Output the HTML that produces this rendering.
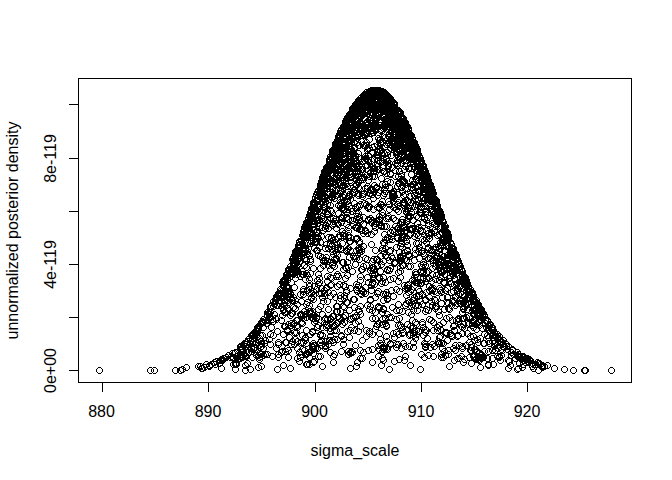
<!DOCTYPE html>
<html><head><meta charset="utf-8"><title>plot</title>
<style>
html,body{margin:0;padding:0;background:#fff;}
body{width:672px;height:480px;overflow:hidden;}
svg{display:block;}
.ln{stroke:#000;stroke-width:1px;fill:none;}
text{font-family:"Liberation Sans",Arial,sans-serif;font-size:16px;fill:#000;}
</style></head><body>
<svg width="672" height="480" viewBox="0 0 672 480">
<rect x="0" y="0" width="672" height="480" fill="#fff"/>
<g shape-rendering="crispEdges">
<defs><path id="c" d="M2 0h3v1h-3zM1 1h1v1h-1zM5 1h1v1h-1zM0 2h1v3h-1zM6 2h1v3h-1zM1 5h1v1h-1zM5 5h1v1h-1zM2 6h3v1h-3z"/></defs>
<g id="pts" fill="#000"><use href="#c" x="337" y="132"/><use href="#c" x="379" y="348"/><use href="#c" x="368" y="164"/><use href="#c" x="376" y="88"/><use href="#c" x="396" y="249"/><use href="#c" x="335" y="157"/><use href="#c" x="382" y="236"/><use href="#c" x="213" y="358"/><use href="#c" x="287" y="365"/><use href="#c" x="439" y="269"/><use href="#c" x="309" y="205"/><use href="#c" x="438" y="300"/><use href="#c" x="404" y="247"/><use href="#c" x="385" y="98"/><use href="#c" x="395" y="191"/><use href="#c" x="489" y="338"/><use href="#c" x="484" y="317"/><use href="#c" x="372" y="220"/><use href="#c" x="309" y="232"/><use href="#c" x="424" y="184"/><use href="#c" x="341" y="206"/><use href="#c" x="336" y="298"/><use href="#c" x="445" y="234"/><use href="#c" x="443" y="232"/><use href="#c" x="363" y="89"/><use href="#c" x="330" y="150"/><use href="#c" x="375" y="189"/><use href="#c" x="381" y="240"/><use href="#c" x="340" y="123"/><use href="#c" x="523" y="355"/><use href="#c" x="294" y="317"/><use href="#c" x="307" y="270"/><use href="#c" x="398" y="114"/><use href="#c" x="387" y="118"/><use href="#c" x="526" y="357"/><use href="#c" x="405" y="165"/><use href="#c" x="330" y="215"/><use href="#c" x="344" y="198"/><use href="#c" x="404" y="135"/><use href="#c" x="342" y="283"/><use href="#c" x="371" y="173"/><use href="#c" x="401" y="221"/><use href="#c" x="399" y="216"/><use href="#c" x="403" y="227"/><use href="#c" x="401" y="221"/><use href="#c" x="400" y="222"/><use href="#c" x="402" y="227"/><use href="#c" x="398" y="219"/><use href="#c" x="406" y="226"/><use href="#c" x="401" y="223"/><use href="#c" x="376" y="119"/><use href="#c" x="436" y="277"/><use href="#c" x="374" y="91"/><use href="#c" x="319" y="192"/><use href="#c" x="258" y="319"/><use href="#c" x="416" y="172"/><use href="#c" x="401" y="129"/><use href="#c" x="360" y="243"/><use href="#c" x="418" y="169"/><use href="#c" x="488" y="324"/><use href="#c" x="360" y="100"/><use href="#c" x="390" y="138"/><use href="#c" x="391" y="137"/><use href="#c" x="430" y="208"/><use href="#c" x="398" y="114"/><use href="#c" x="270" y="303"/><use href="#c" x="395" y="269"/><use href="#c" x="219" y="357"/><use href="#c" x="389" y="105"/><use href="#c" x="384" y="295"/><use href="#c" x="419" y="248"/><use href="#c" x="355" y="184"/><use href="#c" x="351" y="112"/><use href="#c" x="387" y="247"/><use href="#c" x="423" y="227"/><use href="#c" x="351" y="109"/><use href="#c" x="518" y="356"/><use href="#c" x="485" y="348"/><use href="#c" x="410" y="181"/><use href="#c" x="365" y="203"/><use href="#c" x="340" y="149"/><use href="#c" x="334" y="151"/><use href="#c" x="539" y="363"/><use href="#c" x="323" y="169"/><use href="#c" x="278" y="287"/><use href="#c" x="448" y="244"/><use href="#c" x="382" y="92"/><use href="#c" x="252" y="331"/><use href="#c" x="319" y="198"/><use href="#c" x="373" y="256"/><use href="#c" x="470" y="295"/><use href="#c" x="351" y="304"/><use href="#c" x="448" y="247"/><use href="#c" x="406" y="150"/><use href="#c" x="371" y="104"/><use href="#c" x="354" y="131"/><use href="#c" x="284" y="297"/><use href="#c" x="403" y="126"/><use href="#c" x="341" y="295"/><use href="#c" x="375" y="152"/><use href="#c" x="515" y="365"/><use href="#c" x="286" y="270"/><use href="#c" x="377" y="136"/><use href="#c" x="431" y="204"/><use href="#c" x="330" y="251"/><use href="#c" x="349" y="189"/><use href="#c" x="339" y="240"/><use href="#c" x="336" y="315"/><use href="#c" x="446" y="363"/><use href="#c" x="422" y="326"/><use href="#c" x="284" y="345"/><use href="#c" x="420" y="171"/><use href="#c" x="331" y="165"/><use href="#c" x="489" y="325"/><use href="#c" x="370" y="124"/><use href="#c" x="354" y="225"/><use href="#c" x="327" y="349"/><use href="#c" x="378" y="261"/><use href="#c" x="357" y="201"/><use href="#c" x="395" y="301"/><use href="#c" x="355" y="142"/><use href="#c" x="364" y="302"/><use href="#c" x="347" y="316"/><use href="#c" x="420" y="189"/><use href="#c" x="377" y="201"/><use href="#c" x="374" y="152"/><use href="#c" x="410" y="146"/><use href="#c" x="410" y="339"/><use href="#c" x="470" y="298"/><use href="#c" x="363" y="172"/><use href="#c" x="333" y="327"/><use href="#c" x="369" y="346"/><use href="#c" x="459" y="309"/><use href="#c" x="354" y="104"/><use href="#c" x="427" y="182"/><use href="#c" x="329" y="156"/><use href="#c" x="367" y="186"/><use href="#c" x="258" y="338"/><use href="#c" x="290" y="294"/><use href="#c" x="430" y="211"/><use href="#c" x="445" y="232"/><use href="#c" x="316" y="203"/><use href="#c" x="396" y="288"/><use href="#c" x="301" y="228"/><use href="#c" x="396" y="227"/><use href="#c" x="414" y="192"/><use href="#c" x="306" y="213"/><use href="#c" x="411" y="203"/><use href="#c" x="278" y="290"/><use href="#c" x="461" y="278"/><use href="#c" x="350" y="122"/><use href="#c" x="330" y="179"/><use href="#c" x="329" y="183"/><use href="#c" x="335" y="166"/><use href="#c" x="331" y="176"/><use href="#c" x="332" y="175"/><use href="#c" x="333" y="169"/><use href="#c" x="327" y="183"/><use href="#c" x="333" y="173"/><use href="#c" x="339" y="204"/><use href="#c" x="451" y="268"/><use href="#c" x="362" y="94"/><use href="#c" x="436" y="264"/><use href="#c" x="437" y="268"/><use href="#c" x="433" y="258"/><use href="#c" x="436" y="264"/><use href="#c" x="438" y="269"/><use href="#c" x="346" y="124"/><use href="#c" x="377" y="336"/><use href="#c" x="285" y="288"/><use href="#c" x="349" y="109"/><use href="#c" x="246" y="335"/><use href="#c" x="325" y="262"/><use href="#c" x="334" y="172"/><use href="#c" x="449" y="253"/><use href="#c" x="240" y="342"/><use href="#c" x="313" y="314"/><use href="#c" x="326" y="178"/><use href="#c" x="341" y="127"/><use href="#c" x="444" y="257"/><use href="#c" x="441" y="247"/><use href="#c" x="444" y="258"/><use href="#c" x="444" y="258"/><use href="#c" x="445" y="255"/><use href="#c" x="445" y="260"/><use href="#c" x="446" y="262"/><use href="#c" x="403" y="209"/><use href="#c" x="342" y="156"/><use href="#c" x="321" y="172"/><use href="#c" x="418" y="262"/><use href="#c" x="395" y="322"/><use href="#c" x="450" y="345"/><use href="#c" x="334" y="283"/><use href="#c" x="345" y="224"/><use href="#c" x="321" y="170"/><use href="#c" x="394" y="142"/><use href="#c" x="381" y="94"/><use href="#c" x="338" y="131"/><use href="#c" x="394" y="109"/><use href="#c" x="385" y="115"/><use href="#c" x="310" y="315"/><use href="#c" x="403" y="157"/><use href="#c" x="340" y="341"/><use href="#c" x="264" y="317"/><use href="#c" x="464" y="300"/><use href="#c" x="339" y="139"/><use href="#c" x="474" y="310"/><use href="#c" x="320" y="178"/><use href="#c" x="333" y="139"/><use href="#c" x="473" y="326"/><use href="#c" x="411" y="192"/><use href="#c" x="515" y="353"/><use href="#c" x="239" y="346"/><use href="#c" x="420" y="275"/><use href="#c" x="331" y="351"/><use href="#c" x="319" y="294"/><use href="#c" x="364" y="118"/><use href="#c" x="280" y="307"/><use href="#c" x="313" y="286"/><use href="#c" x="343" y="247"/><use href="#c" x="319" y="224"/><use href="#c" x="328" y="160"/><use href="#c" x="347" y="122"/><use href="#c" x="470" y="298"/><use href="#c" x="339" y="215"/><use href="#c" x="306" y="252"/><use href="#c" x="449" y="246"/><use href="#c" x="387" y="170"/><use href="#c" x="415" y="151"/><use href="#c" x="310" y="204"/><use href="#c" x="349" y="268"/><use href="#c" x="436" y="262"/><use href="#c" x="441" y="271"/><use href="#c" x="436" y="261"/><use href="#c" x="317" y="303"/><use href="#c" x="382" y="134"/><use href="#c" x="317" y="339"/><use href="#c" x="311" y="221"/><use href="#c" x="395" y="278"/><use href="#c" x="256" y="356"/><use href="#c" x="299" y="268"/><use href="#c" x="354" y="139"/><use href="#c" x="467" y="286"/><use href="#c" x="472" y="307"/><use href="#c" x="372" y="116"/><use href="#c" x="425" y="181"/><use href="#c" x="328" y="163"/><use href="#c" x="203" y="361"/><use href="#c" x="384" y="93"/><use href="#c" x="453" y="254"/><use href="#c" x="401" y="122"/><use href="#c" x="409" y="225"/><use href="#c" x="450" y="272"/><use href="#c" x="415" y="232"/><use href="#c" x="320" y="257"/><use href="#c" x="344" y="195"/><use href="#c" x="447" y="274"/><use href="#c" x="413" y="146"/><use href="#c" x="345" y="216"/><use href="#c" x="406" y="139"/><use href="#c" x="324" y="278"/><use href="#c" x="344" y="299"/><use href="#c" x="388" y="109"/><use href="#c" x="364" y="97"/><use href="#c" x="324" y="316"/><use href="#c" x="403" y="134"/><use href="#c" x="345" y="131"/><use href="#c" x="390" y="125"/><use href="#c" x="482" y="317"/><use href="#c" x="326" y="159"/><use href="#c" x="313" y="197"/><use href="#c" x="519" y="354"/><use href="#c" x="293" y="252"/><use href="#c" x="391" y="130"/><use href="#c" x="316" y="290"/><use href="#c" x="347" y="122"/><use href="#c" x="443" y="243"/><use href="#c" x="415" y="280"/><use href="#c" x="325" y="211"/><use href="#c" x="457" y="290"/><use href="#c" x="304" y="248"/><use href="#c" x="355" y="328"/><use href="#c" x="461" y="293"/><use href="#c" x="478" y="306"/><use href="#c" x="383" y="106"/><use href="#c" x="388" y="108"/><use href="#c" x="496" y="354"/><use href="#c" x="336" y="232"/><use href="#c" x="349" y="136"/><use href="#c" x="391" y="101"/><use href="#c" x="344" y="116"/><use href="#c" x="352" y="314"/><use href="#c" x="423" y="183"/><use href="#c" x="359" y="98"/><use href="#c" x="388" y="108"/><use href="#c" x="306" y="276"/><use href="#c" x="409" y="158"/><use href="#c" x="407" y="213"/><use href="#c" x="341" y="122"/><use href="#c" x="410" y="139"/><use href="#c" x="339" y="129"/><use href="#c" x="337" y="132"/><use href="#c" x="397" y="130"/><use href="#c" x="505" y="365"/><use href="#c" x="397" y="253"/><use href="#c" x="322" y="257"/><use href="#c" x="320" y="262"/><use href="#c" x="303" y="257"/><use href="#c" x="310" y="199"/><use href="#c" x="422" y="171"/><use href="#c" x="367" y="125"/><use href="#c" x="376" y="305"/><use href="#c" x="375" y="303"/><use href="#c" x="379" y="94"/><use href="#c" x="383" y="96"/><use href="#c" x="379" y="99"/><use href="#c" x="377" y="98"/><use href="#c" x="381" y="99"/><use href="#c" x="346" y="112"/><use href="#c" x="407" y="132"/><use href="#c" x="312" y="208"/><use href="#c" x="342" y="120"/><use href="#c" x="197" y="363"/><use href="#c" x="195" y="363"/><use href="#c" x="419" y="200"/><use href="#c" x="421" y="206"/><use href="#c" x="415" y="196"/><use href="#c" x="354" y="160"/><use href="#c" x="337" y="187"/><use href="#c" x="490" y="361"/><use href="#c" x="400" y="340"/><use href="#c" x="317" y="183"/><use href="#c" x="323" y="222"/><use href="#c" x="387" y="276"/><use href="#c" x="417" y="227"/><use href="#c" x="307" y="258"/><use href="#c" x="397" y="118"/><use href="#c" x="373" y="168"/><use href="#c" x="266" y="313"/><use href="#c" x="342" y="312"/><use href="#c" x="478" y="308"/><use href="#c" x="476" y="307"/><use href="#c" x="478" y="309"/><use href="#c" x="478" y="307"/><use href="#c" x="262" y="351"/><use href="#c" x="361" y="93"/><use href="#c" x="343" y="181"/><use href="#c" x="471" y="317"/><use href="#c" x="470" y="317"/><use href="#c" x="473" y="320"/><use href="#c" x="473" y="320"/><use href="#c" x="470" y="319"/><use href="#c" x="473" y="321"/><use href="#c" x="348" y="129"/><use href="#c" x="480" y="310"/><use href="#c" x="402" y="353"/><use href="#c" x="312" y="194"/><use href="#c" x="334" y="137"/><use href="#c" x="292" y="275"/><use href="#c" x="430" y="319"/><use href="#c" x="320" y="207"/><use href="#c" x="328" y="154"/><use href="#c" x="413" y="271"/><use href="#c" x="365" y="347"/><use href="#c" x="328" y="155"/><use href="#c" x="318" y="233"/><use href="#c" x="338" y="130"/><use href="#c" x="365" y="90"/><use href="#c" x="437" y="242"/><use href="#c" x="304" y="234"/><use href="#c" x="276" y="290"/><use href="#c" x="344" y="183"/><use href="#c" x="390" y="103"/><use href="#c" x="440" y="267"/><use href="#c" x="405" y="309"/><use href="#c" x="317" y="190"/><use href="#c" x="451" y="357"/><use href="#c" x="346" y="168"/><use href="#c" x="350" y="163"/><use href="#c" x="302" y="247"/><use href="#c" x="247" y="341"/><use href="#c" x="326" y="164"/><use href="#c" x="421" y="173"/><use href="#c" x="384" y="178"/><use href="#c" x="375" y="96"/><use href="#c" x="366" y="92"/><use href="#c" x="477" y="354"/><use href="#c" x="480" y="354"/><use href="#c" x="475" y="354"/><use href="#c" x="478" y="355"/><use href="#c" x="478" y="355"/><use href="#c" x="477" y="352"/><use href="#c" x="476" y="354"/><use href="#c" x="479" y="354"/><use href="#c" x="475" y="354"/><use href="#c" x="478" y="354"/><use href="#c" x="480" y="353"/><use href="#c" x="478" y="354"/><use href="#c" x="338" y="333"/><use href="#c" x="245" y="336"/><use href="#c" x="428" y="230"/><use href="#c" x="372" y="101"/><use href="#c" x="393" y="148"/><use href="#c" x="343" y="118"/><use href="#c" x="419" y="321"/><use href="#c" x="366" y="95"/><use href="#c" x="454" y="256"/><use href="#c" x="305" y="305"/><use href="#c" x="317" y="182"/><use href="#c" x="301" y="308"/><use href="#c" x="329" y="262"/><use href="#c" x="391" y="193"/><use href="#c" x="356" y="256"/><use href="#c" x="355" y="107"/><use href="#c" x="258" y="340"/><use href="#c" x="393" y="206"/><use href="#c" x="342" y="132"/><use href="#c" x="361" y="174"/><use href="#c" x="380" y="102"/><use href="#c" x="365" y="99"/><use href="#c" x="410" y="217"/><use href="#c" x="348" y="111"/><use href="#c" x="331" y="263"/><use href="#c" x="466" y="291"/><use href="#c" x="391" y="144"/><use href="#c" x="219" y="356"/><use href="#c" x="242" y="362"/><use href="#c" x="335" y="134"/><use href="#c" x="444" y="234"/><use href="#c" x="381" y="240"/><use href="#c" x="379" y="245"/><use href="#c" x="380" y="239"/><use href="#c" x="381" y="231"/><use href="#c" x="382" y="245"/><use href="#c" x="381" y="248"/><use href="#c" x="441" y="348"/><use href="#c" x="366" y="105"/><use href="#c" x="423" y="208"/><use href="#c" x="509" y="347"/><use href="#c" x="302" y="311"/><use href="#c" x="326" y="180"/><use href="#c" x="398" y="160"/><use href="#c" x="408" y="165"/><use href="#c" x="349" y="110"/><use href="#c" x="248" y="345"/><use href="#c" x="407" y="199"/><use href="#c" x="384" y="110"/><use href="#c" x="439" y="230"/><use href="#c" x="390" y="293"/><use href="#c" x="360" y="349"/><use href="#c" x="400" y="253"/><use href="#c" x="308" y="218"/><use href="#c" x="418" y="158"/><use href="#c" x="344" y="122"/><use href="#c" x="302" y="222"/><use href="#c" x="313" y="208"/><use href="#c" x="458" y="278"/><use href="#c" x="324" y="208"/><use href="#c" x="428" y="196"/><use href="#c" x="315" y="235"/><use href="#c" x="438" y="289"/><use href="#c" x="417" y="366"/><use href="#c" x="339" y="321"/><use href="#c" x="372" y="102"/><use href="#c" x="385" y="123"/><use href="#c" x="332" y="141"/><use href="#c" x="365" y="167"/><use href="#c" x="321" y="316"/><use href="#c" x="248" y="348"/><use href="#c" x="424" y="246"/><use href="#c" x="455" y="282"/><use href="#c" x="459" y="291"/><use href="#c" x="456" y="283"/><use href="#c" x="451" y="275"/><use href="#c" x="454" y="280"/><use href="#c" x="453" y="281"/><use href="#c" x="323" y="167"/><use href="#c" x="448" y="332"/><use href="#c" x="282" y="348"/><use href="#c" x="371" y="124"/><use href="#c" x="366" y="101"/><use href="#c" x="368" y="161"/><use href="#c" x="448" y="247"/><use href="#c" x="401" y="153"/><use href="#c" x="405" y="151"/><use href="#c" x="420" y="332"/><use href="#c" x="364" y="129"/><use href="#c" x="379" y="321"/><use href="#c" x="450" y="297"/><use href="#c" x="520" y="354"/><use href="#c" x="427" y="188"/><use href="#c" x="383" y="215"/><use href="#c" x="474" y="348"/><use href="#c" x="476" y="350"/><use href="#c" x="474" y="302"/><use href="#c" x="291" y="263"/><use href="#c" x="238" y="343"/><use href="#c" x="407" y="288"/><use href="#c" x="433" y="217"/><use href="#c" x="379" y="316"/><use href="#c" x="318" y="290"/><use href="#c" x="332" y="148"/><use href="#c" x="319" y="198"/><use href="#c" x="362" y="185"/><use href="#c" x="390" y="117"/><use href="#c" x="418" y="268"/><use href="#c" x="281" y="309"/><use href="#c" x="354" y="284"/><use href="#c" x="337" y="292"/><use href="#c" x="267" y="309"/><use href="#c" x="351" y="144"/><use href="#c" x="437" y="333"/><use href="#c" x="371" y="97"/><use href="#c" x="436" y="322"/><use href="#c" x="371" y="98"/><use href="#c" x="218" y="365"/><use href="#c" x="403" y="292"/><use href="#c" x="324" y="258"/><use href="#c" x="289" y="256"/><use href="#c" x="519" y="364"/><use href="#c" x="342" y="145"/><use href="#c" x="381" y="93"/><use href="#c" x="332" y="141"/><use href="#c" x="311" y="283"/><use href="#c" x="504" y="346"/><use href="#c" x="341" y="163"/><use href="#c" x="385" y="132"/><use href="#c" x="306" y="354"/><use href="#c" x="435" y="243"/><use href="#c" x="382" y="291"/><use href="#c" x="339" y="174"/><use href="#c" x="335" y="179"/><use href="#c" x="370" y="275"/><use href="#c" x="479" y="315"/><use href="#c" x="351" y="186"/><use href="#c" x="363" y="122"/><use href="#c" x="360" y="289"/><use href="#c" x="300" y="315"/><use href="#c" x="280" y="289"/><use href="#c" x="397" y="110"/><use href="#c" x="346" y="136"/><use href="#c" x="425" y="255"/><use href="#c" x="418" y="174"/><use href="#c" x="455" y="291"/><use href="#c" x="243" y="353"/><use href="#c" x="353" y="312"/><use href="#c" x="319" y="193"/><use href="#c" x="332" y="236"/><use href="#c" x="386" y="123"/><use href="#c" x="421" y="181"/><use href="#c" x="396" y="257"/><use href="#c" x="310" y="221"/><use href="#c" x="420" y="261"/><use href="#c" x="393" y="344"/><use href="#c" x="376" y="87"/><use href="#c" x="331" y="195"/><use href="#c" x="440" y="279"/><use href="#c" x="258" y="319"/><use href="#c" x="335" y="210"/><use href="#c" x="379" y="89"/><use href="#c" x="423" y="306"/><use href="#c" x="434" y="211"/><use href="#c" x="281" y="278"/><use href="#c" x="284" y="283"/><use href="#c" x="350" y="106"/><use href="#c" x="368" y="282"/><use href="#c" x="415" y="214"/><use href="#c" x="341" y="233"/><use href="#c" x="413" y="327"/><use href="#c" x="277" y="290"/><use href="#c" x="310" y="350"/><use href="#c" x="367" y="90"/><use href="#c" x="376" y="204"/><use href="#c" x="406" y="132"/><use href="#c" x="307" y="229"/><use href="#c" x="447" y="239"/><use href="#c" x="362" y="143"/><use href="#c" x="317" y="186"/><use href="#c" x="541" y="363"/><use href="#c" x="470" y="292"/><use href="#c" x="383" y="93"/><use href="#c" x="347" y="349"/><use href="#c" x="345" y="351"/><use href="#c" x="345" y="348"/><use href="#c" x="347" y="350"/><use href="#c" x="349" y="349"/><use href="#c" x="348" y="348"/><use href="#c" x="347" y="119"/><use href="#c" x="315" y="203"/><use href="#c" x="439" y="262"/><use href="#c" x="426" y="235"/><use href="#c" x="406" y="343"/><use href="#c" x="386" y="206"/><use href="#c" x="372" y="122"/><use href="#c" x="327" y="164"/><use href="#c" x="411" y="151"/><use href="#c" x="434" y="324"/><use href="#c" x="415" y="164"/><use href="#c" x="304" y="230"/><use href="#c" x="527" y="357"/><use href="#c" x="391" y="259"/><use href="#c" x="323" y="177"/><use href="#c" x="307" y="209"/><use href="#c" x="306" y="212"/><use href="#c" x="303" y="219"/><use href="#c" x="469" y="290"/><use href="#c" x="344" y="147"/><use href="#c" x="419" y="319"/><use href="#c" x="453" y="252"/><use href="#c" x="443" y="329"/><use href="#c" x="334" y="241"/><use href="#c" x="375" y="87"/><use href="#c" x="489" y="347"/><use href="#c" x="352" y="161"/><use href="#c" x="304" y="299"/><use href="#c" x="283" y="339"/><use href="#c" x="372" y="315"/><use href="#c" x="346" y="158"/><use href="#c" x="466" y="313"/><use href="#c" x="420" y="197"/><use href="#c" x="307" y="256"/><use href="#c" x="435" y="260"/><use href="#c" x="337" y="137"/><use href="#c" x="456" y="261"/><use href="#c" x="332" y="257"/><use href="#c" x="342" y="155"/><use href="#c" x="454" y="256"/><use href="#c" x="436" y="334"/><use href="#c" x="402" y="126"/><use href="#c" x="403" y="127"/><use href="#c" x="402" y="123"/><use href="#c" x="400" y="120"/><use href="#c" x="290" y="259"/><use href="#c" x="292" y="257"/><use href="#c" x="294" y="248"/><use href="#c" x="295" y="248"/><use href="#c" x="355" y="190"/><use href="#c" x="316" y="279"/><use href="#c" x="319" y="182"/><use href="#c" x="522" y="355"/><use href="#c" x="358" y="98"/><use href="#c" x="413" y="293"/><use href="#c" x="396" y="356"/><use href="#c" x="347" y="111"/><use href="#c" x="329" y="171"/><use href="#c" x="339" y="156"/><use href="#c" x="284" y="288"/><use href="#c" x="356" y="103"/><use href="#c" x="433" y="204"/><use href="#c" x="343" y="289"/><use href="#c" x="416" y="292"/><use href="#c" x="369" y="123"/><use href="#c" x="318" y="187"/><use href="#c" x="274" y="302"/><use href="#c" x="302" y="246"/><use href="#c" x="383" y="156"/><use href="#c" x="404" y="282"/><use href="#c" x="311" y="201"/><use href="#c" x="334" y="163"/><use href="#c" x="339" y="185"/><use href="#c" x="358" y="287"/><use href="#c" x="378" y="222"/><use href="#c" x="362" y="290"/><use href="#c" x="320" y="216"/><use href="#c" x="305" y="218"/><use href="#c" x="406" y="153"/><use href="#c" x="251" y="345"/><use href="#c" x="454" y="300"/><use href="#c" x="403" y="300"/><use href="#c" x="339" y="259"/><use href="#c" x="311" y="358"/><use href="#c" x="340" y="303"/><use href="#c" x="302" y="335"/><use href="#c" x="300" y="339"/><use href="#c" x="302" y="337"/><use href="#c" x="302" y="334"/><use href="#c" x="320" y="258"/><use href="#c" x="332" y="148"/><use href="#c" x="452" y="252"/><use href="#c" x="398" y="228"/><use href="#c" x="384" y="101"/><use href="#c" x="429" y="287"/><use href="#c" x="344" y="206"/><use href="#c" x="272" y="297"/><use href="#c" x="380" y="111"/><use href="#c" x="353" y="117"/><use href="#c" x="469" y="303"/><use href="#c" x="370" y="256"/><use href="#c" x="369" y="92"/><use href="#c" x="368" y="90"/><use href="#c" x="370" y="94"/><use href="#c" x="337" y="179"/><use href="#c" x="535" y="360"/><use href="#c" x="384" y="266"/><use href="#c" x="279" y="279"/><use href="#c" x="431" y="198"/><use href="#c" x="377" y="187"/><use href="#c" x="391" y="111"/><use href="#c" x="390" y="108"/><use href="#c" x="392" y="107"/><use href="#c" x="390" y="117"/><use href="#c" x="388" y="111"/><use href="#c" x="353" y="160"/><use href="#c" x="429" y="190"/><use href="#c" x="388" y="121"/><use href="#c" x="464" y="330"/><use href="#c" x="380" y="89"/><use href="#c" x="321" y="204"/><use href="#c" x="268" y="303"/><use href="#c" x="372" y="102"/><use href="#c" x="430" y="260"/><use href="#c" x="298" y="238"/><use href="#c" x="458" y="323"/><use href="#c" x="459" y="324"/><use href="#c" x="455" y="316"/><use href="#c" x="273" y="302"/><use href="#c" x="315" y="322"/><use href="#c" x="395" y="225"/><use href="#c" x="334" y="252"/><use href="#c" x="339" y="187"/><use href="#c" x="270" y="332"/><use href="#c" x="461" y="325"/><use href="#c" x="441" y="267"/><use href="#c" x="386" y="97"/><use href="#c" x="411" y="145"/><use href="#c" x="410" y="146"/><use href="#c" x="414" y="152"/><use href="#c" x="411" y="150"/><use href="#c" x="411" y="147"/><use href="#c" x="412" y="147"/><use href="#c" x="410" y="145"/><use href="#c" x="332" y="143"/><use href="#c" x="415" y="286"/><use href="#c" x="300" y="231"/><use href="#c" x="372" y="224"/><use href="#c" x="346" y="193"/><use href="#c" x="385" y="94"/><use href="#c" x="396" y="156"/><use href="#c" x="426" y="232"/><use href="#c" x="303" y="301"/><use href="#c" x="291" y="252"/><use href="#c" x="448" y="250"/><use href="#c" x="288" y="297"/><use href="#c" x="432" y="197"/><use href="#c" x="351" y="164"/><use href="#c" x="402" y="120"/><use href="#c" x="384" y="234"/><use href="#c" x="371" y="96"/><use href="#c" x="367" y="109"/><use href="#c" x="335" y="166"/><use href="#c" x="336" y="281"/><use href="#c" x="337" y="133"/><use href="#c" x="331" y="323"/><use href="#c" x="380" y="357"/><use href="#c" x="397" y="115"/><use href="#c" x="390" y="115"/><use href="#c" x="392" y="124"/><use href="#c" x="393" y="107"/><use href="#c" x="485" y="327"/><use href="#c" x="284" y="284"/><use href="#c" x="247" y="340"/><use href="#c" x="422" y="178"/><use href="#c" x="329" y="186"/><use href="#c" x="405" y="212"/><use href="#c" x="330" y="190"/><use href="#c" x="404" y="207"/><use href="#c" x="436" y="214"/><use href="#c" x="355" y="168"/><use href="#c" x="378" y="106"/><use href="#c" x="359" y="158"/><use href="#c" x="431" y="343"/><use href="#c" x="354" y="203"/><use href="#c" x="436" y="211"/><use href="#c" x="279" y="304"/><use href="#c" x="325" y="245"/><use href="#c" x="338" y="129"/><use href="#c" x="413" y="159"/><use href="#c" x="395" y="203"/><use href="#c" x="409" y="154"/><use href="#c" x="422" y="296"/><use href="#c" x="421" y="168"/><use href="#c" x="314" y="189"/><use href="#c" x="435" y="243"/><use href="#c" x="379" y="164"/><use href="#c" x="415" y="240"/><use href="#c" x="335" y="140"/><use href="#c" x="264" y="309"/><use href="#c" x="423" y="235"/><use href="#c" x="401" y="125"/><use href="#c" x="386" y="139"/><use href="#c" x="221" y="355"/><use href="#c" x="516" y="353"/><use href="#c" x="399" y="115"/><use href="#c" x="357" y="273"/><use href="#c" x="378" y="126"/><use href="#c" x="361" y="95"/><use href="#c" x="271" y="311"/><use href="#c" x="357" y="130"/><use href="#c" x="280" y="292"/><use href="#c" x="385" y="125"/><use href="#c" x="367" y="97"/><use href="#c" x="348" y="124"/><use href="#c" x="375" y="342"/><use href="#c" x="365" y="205"/><use href="#c" x="458" y="267"/><use href="#c" x="330" y="184"/><use href="#c" x="489" y="338"/><use href="#c" x="312" y="205"/><use href="#c" x="382" y="143"/><use href="#c" x="333" y="256"/><use href="#c" x="211" y="359"/><use href="#c" x="403" y="129"/><use href="#c" x="415" y="157"/><use href="#c" x="376" y="90"/><use href="#c" x="444" y="229"/><use href="#c" x="386" y="103"/><use href="#c" x="337" y="308"/><use href="#c" x="459" y="343"/><use href="#c" x="347" y="146"/><use href="#c" x="299" y="241"/><use href="#c" x="420" y="180"/><use href="#c" x="444" y="294"/><use href="#c" x="387" y="101"/><use href="#c" x="464" y="306"/><use href="#c" x="335" y="273"/><use href="#c" x="460" y="321"/><use href="#c" x="238" y="346"/><use href="#c" x="304" y="225"/><use href="#c" x="335" y="155"/><use href="#c" x="336" y="151"/><use href="#c" x="336" y="153"/><use href="#c" x="333" y="165"/><use href="#c" x="334" y="157"/><use href="#c" x="333" y="163"/><use href="#c" x="319" y="332"/><use href="#c" x="330" y="150"/><use href="#c" x="367" y="170"/><use href="#c" x="371" y="165"/><use href="#c" x="305" y="240"/><use href="#c" x="410" y="139"/><use href="#c" x="437" y="273"/><use href="#c" x="495" y="345"/><use href="#c" x="416" y="159"/><use href="#c" x="315" y="204"/><use href="#c" x="400" y="115"/><use href="#c" x="250" y="338"/><use href="#c" x="253" y="328"/><use href="#c" x="351" y="103"/><use href="#c" x="276" y="300"/><use href="#c" x="373" y="115"/><use href="#c" x="426" y="196"/><use href="#c" x="389" y="123"/><use href="#c" x="254" y="325"/><use href="#c" x="249" y="354"/><use href="#c" x="411" y="328"/><use href="#c" x="348" y="158"/><use href="#c" x="357" y="101"/><use href="#c" x="452" y="251"/><use href="#c" x="442" y="223"/><use href="#c" x="395" y="139"/><use href="#c" x="312" y="238"/><use href="#c" x="314" y="234"/><use href="#c" x="313" y="232"/><use href="#c" x="313" y="239"/><use href="#c" x="345" y="245"/><use href="#c" x="449" y="245"/><use href="#c" x="346" y="254"/><use href="#c" x="312" y="345"/><use href="#c" x="314" y="345"/><use href="#c" x="310" y="342"/><use href="#c" x="310" y="346"/><use href="#c" x="486" y="327"/><use href="#c" x="306" y="213"/><use href="#c" x="349" y="191"/><use href="#c" x="371" y="266"/><use href="#c" x="284" y="285"/><use href="#c" x="327" y="315"/><use href="#c" x="329" y="313"/><use href="#c" x="327" y="316"/><use href="#c" x="322" y="315"/><use href="#c" x="330" y="313"/><use href="#c" x="324" y="316"/><use href="#c" x="259" y="332"/><use href="#c" x="324" y="322"/><use href="#c" x="392" y="217"/><use href="#c" x="384" y="96"/><use href="#c" x="397" y="124"/><use href="#c" x="404" y="130"/><use href="#c" x="355" y="174"/><use href="#c" x="520" y="357"/><use href="#c" x="371" y="114"/><use href="#c" x="299" y="332"/><use href="#c" x="371" y="182"/><use href="#c" x="272" y="297"/><use href="#c" x="360" y="214"/><use href="#c" x="405" y="127"/><use href="#c" x="358" y="100"/><use href="#c" x="530" y="365"/><use href="#c" x="364" y="157"/><use href="#c" x="384" y="296"/><use href="#c" x="357" y="277"/><use href="#c" x="306" y="302"/><use href="#c" x="265" y="308"/><use href="#c" x="296" y="252"/><use href="#c" x="402" y="181"/><use href="#c" x="371" y="89"/><use href="#c" x="377" y="88"/><use href="#c" x="409" y="154"/><use href="#c" x="378" y="201"/><use href="#c" x="262" y="317"/><use href="#c" x="534" y="359"/><use href="#c" x="355" y="306"/><use href="#c" x="382" y="320"/><use href="#c" x="455" y="261"/><use href="#c" x="386" y="126"/><use href="#c" x="285" y="347"/><use href="#c" x="461" y="281"/><use href="#c" x="310" y="296"/><use href="#c" x="465" y="285"/><use href="#c" x="315" y="230"/><use href="#c" x="364" y="94"/><use href="#c" x="392" y="160"/><use href="#c" x="297" y="354"/><use href="#c" x="363" y="89"/><use href="#c" x="400" y="119"/><use href="#c" x="333" y="139"/><use href="#c" x="359" y="174"/><use href="#c" x="298" y="339"/><use href="#c" x="325" y="163"/><use href="#c" x="423" y="289"/><use href="#c" x="348" y="111"/><use href="#c" x="360" y="92"/><use href="#c" x="329" y="194"/><use href="#c" x="363" y="131"/><use href="#c" x="463" y="314"/><use href="#c" x="419" y="166"/><use href="#c" x="401" y="139"/><use href="#c" x="372" y="326"/><use href="#c" x="311" y="201"/><use href="#c" x="311" y="245"/><use href="#c" x="389" y="106"/><use href="#c" x="292" y="330"/><use href="#c" x="257" y="321"/><use href="#c" x="290" y="263"/><use href="#c" x="298" y="298"/><use href="#c" x="361" y="95"/><use href="#c" x="411" y="157"/><use href="#c" x="408" y="184"/><use href="#c" x="360" y="142"/><use href="#c" x="335" y="145"/><use href="#c" x="334" y="303"/><use href="#c" x="355" y="104"/><use href="#c" x="470" y="353"/><use href="#c" x="470" y="353"/><use href="#c" x="475" y="356"/><use href="#c" x="471" y="353"/><use href="#c" x="473" y="355"/><use href="#c" x="319" y="254"/><use href="#c" x="478" y="351"/><use href="#c" x="340" y="182"/><use href="#c" x="362" y="227"/><use href="#c" x="417" y="227"/><use href="#c" x="428" y="206"/><use href="#c" x="441" y="279"/><use href="#c" x="351" y="255"/><use href="#c" x="341" y="292"/><use href="#c" x="335" y="221"/><use href="#c" x="366" y="88"/><use href="#c" x="400" y="115"/><use href="#c" x="344" y="114"/><use href="#c" x="384" y="152"/><use href="#c" x="345" y="232"/><use href="#c" x="318" y="213"/><use href="#c" x="373" y="152"/><use href="#c" x="388" y="98"/><use href="#c" x="395" y="331"/><use href="#c" x="380" y="258"/><use href="#c" x="304" y="239"/><use href="#c" x="330" y="147"/><use href="#c" x="465" y="295"/><use href="#c" x="433" y="303"/><use href="#c" x="374" y="95"/><use href="#c" x="275" y="351"/><use href="#c" x="364" y="145"/><use href="#c" x="411" y="257"/><use href="#c" x="441" y="239"/><use href="#c" x="462" y="275"/><use href="#c" x="400" y="115"/><use href="#c" x="520" y="361"/><use href="#c" x="312" y="213"/><use href="#c" x="391" y="334"/><use href="#c" x="403" y="238"/><use href="#c" x="451" y="254"/><use href="#c" x="457" y="297"/><use href="#c" x="460" y="305"/><use href="#c" x="458" y="298"/><use href="#c" x="456" y="297"/><use href="#c" x="316" y="217"/><use href="#c" x="306" y="308"/><use href="#c" x="275" y="293"/><use href="#c" x="470" y="310"/><use href="#c" x="327" y="179"/><use href="#c" x="475" y="301"/><use href="#c" x="365" y="97"/><use href="#c" x="285" y="267"/><use href="#c" x="363" y="91"/><use href="#c" x="343" y="126"/><use href="#c" x="392" y="107"/><use href="#c" x="345" y="137"/><use href="#c" x="391" y="102"/><use href="#c" x="388" y="135"/><use href="#c" x="461" y="303"/><use href="#c" x="375" y="146"/><use href="#c" x="306" y="280"/><use href="#c" x="439" y="269"/><use href="#c" x="461" y="273"/><use href="#c" x="369" y="173"/><use href="#c" x="341" y="304"/><use href="#c" x="356" y="249"/><use href="#c" x="335" y="135"/><use href="#c" x="303" y="340"/><use href="#c" x="258" y="343"/><use href="#c" x="257" y="332"/><use href="#c" x="454" y="256"/><use href="#c" x="341" y="124"/><use href="#c" x="358" y="266"/><use href="#c" x="439" y="239"/><use href="#c" x="339" y="183"/><use href="#c" x="451" y="357"/><use href="#c" x="434" y="327"/><use href="#c" x="399" y="244"/><use href="#c" x="359" y="102"/><use href="#c" x="340" y="266"/><use href="#c" x="229" y="350"/><use href="#c" x="384" y="346"/><use href="#c" x="378" y="91"/><use href="#c" x="281" y="278"/><use href="#c" x="345" y="234"/><use href="#c" x="416" y="255"/><use href="#c" x="465" y="288"/><use href="#c" x="396" y="168"/><use href="#c" x="475" y="307"/><use href="#c" x="426" y="197"/><use href="#c" x="426" y="196"/><use href="#c" x="427" y="198"/><use href="#c" x="424" y="196"/><use href="#c" x="425" y="196"/><use href="#c" x="423" y="327"/><use href="#c" x="397" y="228"/><use href="#c" x="399" y="219"/><use href="#c" x="394" y="235"/><use href="#c" x="399" y="233"/><use href="#c" x="395" y="199"/><use href="#c" x="402" y="119"/><use href="#c" x="377" y="140"/><use href="#c" x="388" y="108"/><use href="#c" x="398" y="116"/><use href="#c" x="346" y="156"/><use href="#c" x="496" y="353"/><use href="#c" x="443" y="256"/><use href="#c" x="485" y="334"/><use href="#c" x="400" y="154"/><use href="#c" x="410" y="330"/><use href="#c" x="454" y="267"/><use href="#c" x="249" y="335"/><use href="#c" x="436" y="340"/><use href="#c" x="343" y="214"/><use href="#c" x="414" y="172"/><use href="#c" x="330" y="339"/><use href="#c" x="382" y="98"/><use href="#c" x="301" y="226"/><use href="#c" x="405" y="140"/><use href="#c" x="484" y="318"/><use href="#c" x="344" y="115"/><use href="#c" x="330" y="353"/><use href="#c" x="329" y="246"/><use href="#c" x="339" y="178"/><use href="#c" x="455" y="258"/><use href="#c" x="346" y="146"/><use href="#c" x="498" y="339"/><use href="#c" x="310" y="206"/><use href="#c" x="395" y="341"/><use href="#c" x="428" y="278"/><use href="#c" x="383" y="289"/><use href="#c" x="282" y="292"/><use href="#c" x="393" y="316"/><use href="#c" x="380" y="107"/><use href="#c" x="348" y="137"/><use href="#c" x="375" y="135"/><use href="#c" x="326" y="337"/><use href="#c" x="325" y="341"/><use href="#c" x="429" y="220"/><use href="#c" x="446" y="278"/><use href="#c" x="281" y="276"/><use href="#c" x="356" y="109"/><use href="#c" x="325" y="225"/><use href="#c" x="417" y="206"/><use href="#c" x="405" y="127"/><use href="#c" x="398" y="124"/><use href="#c" x="291" y="329"/><use href="#c" x="469" y="320"/><use href="#c" x="415" y="183"/><use href="#c" x="485" y="362"/><use href="#c" x="336" y="133"/><use href="#c" x="361" y="109"/><use href="#c" x="425" y="220"/><use href="#c" x="369" y="149"/><use href="#c" x="278" y="349"/><use href="#c" x="334" y="245"/><use href="#c" x="409" y="141"/><use href="#c" x="398" y="184"/><use href="#c" x="265" y="316"/><use href="#c" x="516" y="353"/><use href="#c" x="378" y="119"/><use href="#c" x="337" y="159"/><use href="#c" x="400" y="157"/><use href="#c" x="377" y="147"/><use href="#c" x="312" y="235"/><use href="#c" x="314" y="195"/><use href="#c" x="313" y="197"/><use href="#c" x="312" y="200"/><use href="#c" x="317" y="189"/><use href="#c" x="330" y="152"/><use href="#c" x="408" y="139"/><use href="#c" x="430" y="353"/><use href="#c" x="395" y="173"/><use href="#c" x="353" y="286"/><use href="#c" x="486" y="323"/><use href="#c" x="358" y="176"/><use href="#c" x="306" y="217"/><use href="#c" x="393" y="133"/><use href="#c" x="375" y="111"/><use href="#c" x="437" y="255"/><use href="#c" x="484" y="355"/><use href="#c" x="459" y="275"/><use href="#c" x="321" y="320"/><use href="#c" x="375" y="94"/><use href="#c" x="328" y="194"/><use href="#c" x="373" y="96"/><use href="#c" x="380" y="93"/><use href="#c" x="380" y="91"/><use href="#c" x="377" y="92"/><use href="#c" x="379" y="95"/><use href="#c" x="381" y="91"/><use href="#c" x="403" y="123"/><use href="#c" x="362" y="284"/><use href="#c" x="393" y="135"/><use href="#c" x="415" y="293"/><use href="#c" x="361" y="92"/><use href="#c" x="389" y="164"/><use href="#c" x="428" y="247"/><use href="#c" x="323" y="164"/><use href="#c" x="353" y="247"/><use href="#c" x="301" y="234"/><use href="#c" x="369" y="331"/><use href="#c" x="322" y="345"/><use href="#c" x="248" y="332"/><use href="#c" x="358" y="100"/><use href="#c" x="448" y="268"/><use href="#c" x="339" y="159"/><use href="#c" x="388" y="98"/><use href="#c" x="479" y="313"/><use href="#c" x="356" y="226"/><use href="#c" x="440" y="234"/><use href="#c" x="492" y="333"/><use href="#c" x="426" y="283"/><use href="#c" x="293" y="323"/><use href="#c" x="397" y="128"/><use href="#c" x="378" y="223"/><use href="#c" x="331" y="145"/><use href="#c" x="321" y="178"/><use href="#c" x="409" y="135"/><use href="#c" x="368" y="219"/><use href="#c" x="411" y="139"/><use href="#c" x="366" y="117"/><use href="#c" x="329" y="191"/><use href="#c" x="314" y="324"/><use href="#c" x="431" y="227"/><use href="#c" x="394" y="225"/><use href="#c" x="418" y="351"/><use href="#c" x="379" y="198"/><use href="#c" x="336" y="146"/><use href="#c" x="370" y="273"/><use href="#c" x="382" y="279"/><use href="#c" x="346" y="113"/><use href="#c" x="339" y="129"/><use href="#c" x="306" y="233"/><use href="#c" x="350" y="135"/><use href="#c" x="359" y="125"/><use href="#c" x="361" y="200"/><use href="#c" x="345" y="264"/><use href="#c" x="454" y="287"/><use href="#c" x="284" y="305"/><use href="#c" x="380" y="168"/><use href="#c" x="356" y="120"/><use href="#c" x="405" y="126"/><use href="#c" x="198" y="365"/><use href="#c" x="313" y="228"/><use href="#c" x="292" y="249"/><use href="#c" x="340" y="282"/><use href="#c" x="399" y="124"/><use href="#c" x="425" y="177"/><use href="#c" x="275" y="354"/><use href="#c" x="449" y="333"/><use href="#c" x="335" y="319"/><use href="#c" x="375" y="218"/><use href="#c" x="285" y="266"/><use href="#c" x="448" y="280"/><use href="#c" x="338" y="214"/><use href="#c" x="399" y="143"/><use href="#c" x="247" y="337"/><use href="#c" x="372" y="105"/><use href="#c" x="375" y="353"/><use href="#c" x="446" y="314"/><use href="#c" x="400" y="129"/><use href="#c" x="330" y="290"/><use href="#c" x="380" y="125"/><use href="#c" x="302" y="224"/><use href="#c" x="398" y="138"/><use href="#c" x="370" y="165"/><use href="#c" x="340" y="124"/><use href="#c" x="370" y="122"/><use href="#c" x="397" y="122"/><use href="#c" x="394" y="157"/><use href="#c" x="329" y="337"/><use href="#c" x="343" y="299"/><use href="#c" x="452" y="342"/><use href="#c" x="414" y="274"/><use href="#c" x="417" y="280"/><use href="#c" x="414" y="279"/><use href="#c" x="412" y="271"/><use href="#c" x="310" y="227"/><use href="#c" x="297" y="248"/><use href="#c" x="310" y="288"/><use href="#c" x="429" y="187"/><use href="#c" x="367" y="169"/><use href="#c" x="360" y="221"/><use href="#c" x="366" y="153"/><use href="#c" x="415" y="328"/><use href="#c" x="290" y="255"/><use href="#c" x="278" y="317"/><use href="#c" x="419" y="228"/><use href="#c" x="453" y="317"/><use href="#c" x="335" y="134"/><use href="#c" x="386" y="110"/><use href="#c" x="415" y="166"/><use href="#c" x="275" y="339"/><use href="#c" x="450" y="249"/><use href="#c" x="392" y="223"/><use href="#c" x="357" y="125"/><use href="#c" x="292" y="268"/><use href="#c" x="429" y="190"/><use href="#c" x="385" y="114"/><use href="#c" x="393" y="341"/><use href="#c" x="384" y="149"/><use href="#c" x="399" y="231"/><use href="#c" x="395" y="229"/><use href="#c" x="404" y="242"/><use href="#c" x="401" y="234"/><use href="#c" x="403" y="234"/><use href="#c" x="399" y="233"/><use href="#c" x="401" y="234"/><use href="#c" x="397" y="221"/><use href="#c" x="397" y="225"/><use href="#c" x="382" y="97"/><use href="#c" x="379" y="202"/><use href="#c" x="422" y="191"/><use href="#c" x="418" y="195"/><use href="#c" x="475" y="306"/><use href="#c" x="269" y="353"/><use href="#c" x="422" y="341"/><use href="#c" x="370" y="129"/><use href="#c" x="408" y="143"/><use href="#c" x="425" y="184"/><use href="#c" x="310" y="206"/><use href="#c" x="359" y="106"/><use href="#c" x="301" y="226"/><use href="#c" x="411" y="294"/><use href="#c" x="301" y="231"/><use href="#c" x="426" y="180"/><use href="#c" x="327" y="266"/><use href="#c" x="283" y="272"/><use href="#c" x="385" y="213"/><use href="#c" x="489" y="355"/><use href="#c" x="405" y="251"/><use href="#c" x="247" y="366"/><use href="#c" x="400" y="202"/><use href="#c" x="320" y="183"/><use href="#c" x="451" y="327"/><use href="#c" x="356" y="308"/><use href="#c" x="369" y="315"/><use href="#c" x="254" y="324"/><use href="#c" x="370" y="88"/><use href="#c" x="514" y="353"/><use href="#c" x="234" y="356"/><use href="#c" x="378" y="103"/><use href="#c" x="379" y="99"/><use href="#c" x="378" y="99"/><use href="#c" x="380" y="112"/><use href="#c" x="376" y="104"/><use href="#c" x="376" y="100"/><use href="#c" x="481" y="340"/><use href="#c" x="386" y="115"/><use href="#c" x="334" y="144"/><use href="#c" x="481" y="331"/><use href="#c" x="242" y="353"/><use href="#c" x="374" y="166"/><use href="#c" x="347" y="129"/><use href="#c" x="295" y="244"/><use href="#c" x="296" y="241"/><use href="#c" x="396" y="108"/><use href="#c" x="462" y="274"/><use href="#c" x="462" y="276"/><use href="#c" x="463" y="277"/><use href="#c" x="464" y="286"/><use href="#c" x="463" y="282"/><use href="#c" x="463" y="283"/><use href="#c" x="465" y="288"/><use href="#c" x="464" y="286"/><use href="#c" x="462" y="280"/><use href="#c" x="461" y="279"/><use href="#c" x="445" y="305"/><use href="#c" x="394" y="160"/><use href="#c" x="352" y="134"/><use href="#c" x="201" y="364"/><use href="#c" x="452" y="268"/><use href="#c" x="399" y="178"/><use href="#c" x="373" y="323"/><use href="#c" x="393" y="106"/><use href="#c" x="310" y="215"/><use href="#c" x="439" y="294"/><use href="#c" x="332" y="216"/><use href="#c" x="286" y="266"/><use href="#c" x="367" y="190"/><use href="#c" x="264" y="313"/><use href="#c" x="430" y="190"/><use href="#c" x="366" y="173"/><use href="#c" x="323" y="241"/><use href="#c" x="232" y="349"/><use href="#c" x="463" y="302"/><use href="#c" x="305" y="228"/><use href="#c" x="344" y="138"/><use href="#c" x="380" y="89"/><use href="#c" x="314" y="201"/><use href="#c" x="477" y="306"/><use href="#c" x="468" y="347"/><use href="#c" x="399" y="114"/><use href="#c" x="452" y="250"/><use href="#c" x="491" y="340"/><use href="#c" x="438" y="340"/><use href="#c" x="417" y="206"/><use href="#c" x="416" y="209"/><use href="#c" x="300" y="228"/><use href="#c" x="416" y="225"/><use href="#c" x="501" y="344"/><use href="#c" x="360" y="110"/><use href="#c" x="358" y="110"/><use href="#c" x="356" y="112"/><use href="#c" x="363" y="107"/><use href="#c" x="362" y="110"/><use href="#c" x="359" y="112"/><use href="#c" x="446" y="275"/><use href="#c" x="350" y="104"/><use href="#c" x="397" y="142"/><use href="#c" x="322" y="204"/><use href="#c" x="372" y="125"/><use href="#c" x="413" y="176"/><use href="#c" x="508" y="352"/><use href="#c" x="448" y="302"/><use href="#c" x="362" y="155"/><use href="#c" x="250" y="330"/><use href="#c" x="493" y="333"/><use href="#c" x="341" y="122"/><use href="#c" x="428" y="195"/><use href="#c" x="375" y="131"/><use href="#c" x="287" y="263"/><use href="#c" x="418" y="247"/><use href="#c" x="302" y="223"/><use href="#c" x="454" y="333"/><use href="#c" x="296" y="239"/><use href="#c" x="388" y="314"/><use href="#c" x="400" y="329"/><use href="#c" x="401" y="121"/><use href="#c" x="389" y="98"/><use href="#c" x="319" y="183"/><use href="#c" x="371" y="188"/><use href="#c" x="351" y="189"/><use href="#c" x="441" y="239"/><use href="#c" x="242" y="343"/><use href="#c" x="310" y="205"/><use href="#c" x="357" y="303"/><use href="#c" x="402" y="302"/><use href="#c" x="349" y="106"/><use href="#c" x="402" y="343"/><use href="#c" x="406" y="137"/><use href="#c" x="466" y="339"/><use href="#c" x="377" y="159"/><use href="#c" x="359" y="166"/><use href="#c" x="409" y="152"/><use href="#c" x="333" y="141"/><use href="#c" x="331" y="151"/><use href="#c" x="330" y="259"/><use href="#c" x="359" y="166"/><use href="#c" x="425" y="189"/><use href="#c" x="489" y="325"/><use href="#c" x="340" y="232"/><use href="#c" x="336" y="216"/><use href="#c" x="382" y="252"/><use href="#c" x="317" y="332"/><use href="#c" x="427" y="182"/><use href="#c" x="428" y="184"/><use href="#c" x="428" y="185"/><use href="#c" x="427" y="181"/><use href="#c" x="396" y="315"/><use href="#c" x="355" y="318"/><use href="#c" x="436" y="218"/><use href="#c" x="458" y="267"/><use href="#c" x="315" y="271"/><use href="#c" x="416" y="288"/><use href="#c" x="288" y="310"/><use href="#c" x="411" y="150"/><use href="#c" x="346" y="133"/><use href="#c" x="353" y="216"/><use href="#c" x="256" y="354"/><use href="#c" x="413" y="213"/><use href="#c" x="433" y="222"/><use href="#c" x="308" y="295"/><use href="#c" x="472" y="307"/><use href="#c" x="376" y="258"/><use href="#c" x="390" y="101"/><use href="#c" x="401" y="256"/><use href="#c" x="439" y="345"/><use href="#c" x="299" y="232"/><use href="#c" x="337" y="233"/><use href="#c" x="391" y="228"/><use href="#c" x="414" y="146"/><use href="#c" x="376" y="346"/><use href="#c" x="444" y="235"/><use href="#c" x="228" y="353"/><use href="#c" x="329" y="163"/><use href="#c" x="326" y="168"/><use href="#c" x="462" y="281"/><use href="#c" x="335" y="187"/><use href="#c" x="322" y="342"/><use href="#c" x="395" y="180"/><use href="#c" x="529" y="363"/><use href="#c" x="447" y="265"/><use href="#c" x="442" y="261"/><use href="#c" x="432" y="246"/><use href="#c" x="505" y="357"/><use href="#c" x="216" y="360"/><use href="#c" x="212" y="361"/><use href="#c" x="346" y="203"/><use href="#c" x="396" y="109"/><use href="#c" x="356" y="240"/><use href="#c" x="355" y="245"/><use href="#c" x="353" y="236"/><use href="#c" x="356" y="240"/><use href="#c" x="358" y="248"/><use href="#c" x="356" y="247"/><use href="#c" x="348" y="119"/><use href="#c" x="400" y="177"/><use href="#c" x="397" y="176"/><use href="#c" x="401" y="178"/><use href="#c" x="402" y="185"/><use href="#c" x="401" y="180"/><use href="#c" x="399" y="176"/><use href="#c" x="398" y="171"/><use href="#c" x="400" y="192"/><use href="#c" x="400" y="178"/><use href="#c" x="400" y="179"/><use href="#c" x="337" y="128"/><use href="#c" x="380" y="305"/><use href="#c" x="380" y="306"/><use href="#c" x="396" y="109"/><use href="#c" x="385" y="105"/><use href="#c" x="332" y="150"/><use href="#c" x="423" y="186"/><use href="#c" x="396" y="180"/><use href="#c" x="452" y="347"/><use href="#c" x="474" y="311"/><use href="#c" x="411" y="278"/><use href="#c" x="430" y="194"/><use href="#c" x="343" y="119"/><use href="#c" x="368" y="106"/><use href="#c" x="433" y="200"/><use href="#c" x="362" y="91"/><use href="#c" x="384" y="108"/><use href="#c" x="497" y="357"/><use href="#c" x="353" y="182"/><use href="#c" x="337" y="142"/><use href="#c" x="406" y="141"/><use href="#c" x="448" y="241"/><use href="#c" x="364" y="110"/><use href="#c" x="335" y="171"/><use href="#c" x="262" y="317"/><use href="#c" x="479" y="312"/><use href="#c" x="405" y="281"/><use href="#c" x="263" y="320"/><use href="#c" x="405" y="289"/><use href="#c" x="356" y="238"/><use href="#c" x="353" y="235"/><use href="#c" x="354" y="235"/><use href="#c" x="398" y="138"/><use href="#c" x="333" y="148"/><use href="#c" x="425" y="222"/><use href="#c" x="299" y="271"/><use href="#c" x="297" y="273"/><use href="#c" x="328" y="208"/><use href="#c" x="381" y="190"/><use href="#c" x="238" y="345"/><use href="#c" x="356" y="102"/><use href="#c" x="413" y="321"/><use href="#c" x="405" y="132"/><use href="#c" x="385" y="116"/><use href="#c" x="432" y="297"/><use href="#c" x="470" y="311"/><use href="#c" x="310" y="210"/><use href="#c" x="360" y="263"/><use href="#c" x="343" y="165"/><use href="#c" x="409" y="317"/><use href="#c" x="424" y="335"/><use href="#c" x="377" y="340"/><use href="#c" x="455" y="332"/><use href="#c" x="369" y="127"/><use href="#c" x="324" y="210"/><use href="#c" x="280" y="279"/><use href="#c" x="437" y="209"/><use href="#c" x="336" y="162"/><use href="#c" x="320" y="298"/><use href="#c" x="318" y="215"/><use href="#c" x="306" y="225"/><use href="#c" x="380" y="162"/><use href="#c" x="374" y="149"/><use href="#c" x="406" y="133"/><use href="#c" x="292" y="275"/><use href="#c" x="256" y="322"/><use href="#c" x="398" y="133"/><use href="#c" x="396" y="127"/><use href="#c" x="398" y="131"/><use href="#c" x="400" y="138"/><use href="#c" x="398" y="134"/><use href="#c" x="395" y="136"/><use href="#c" x="398" y="136"/><use href="#c" x="391" y="121"/><use href="#c" x="401" y="136"/><use href="#c" x="397" y="133"/><use href="#c" x="392" y="123"/><use href="#c" x="396" y="132"/><use href="#c" x="394" y="127"/><use href="#c" x="400" y="138"/><use href="#c" x="398" y="135"/><use href="#c" x="396" y="129"/><use href="#c" x="206" y="362"/><use href="#c" x="266" y="311"/><use href="#c" x="317" y="331"/><use href="#c" x="355" y="97"/><use href="#c" x="369" y="271"/><use href="#c" x="466" y="289"/><use href="#c" x="326" y="220"/><use href="#c" x="294" y="301"/><use href="#c" x="486" y="321"/><use href="#c" x="233" y="360"/><use href="#c" x="233" y="361"/><use href="#c" x="230" y="361"/><use href="#c" x="232" y="360"/><use href="#c" x="232" y="361"/><use href="#c" x="233" y="360"/><use href="#c" x="352" y="320"/><use href="#c" x="449" y="270"/><use href="#c" x="433" y="272"/><use href="#c" x="351" y="106"/><use href="#c" x="357" y="102"/><use href="#c" x="353" y="112"/><use href="#c" x="356" y="104"/><use href="#c" x="334" y="171"/><use href="#c" x="368" y="104"/><use href="#c" x="462" y="278"/><use href="#c" x="366" y="101"/><use href="#c" x="290" y="260"/><use href="#c" x="300" y="244"/><use href="#c" x="394" y="149"/><use href="#c" x="382" y="184"/><use href="#c" x="328" y="165"/><use href="#c" x="429" y="224"/><use href="#c" x="337" y="190"/><use href="#c" x="271" y="300"/><use href="#c" x="421" y="166"/><use href="#c" x="371" y="281"/><use href="#c" x="450" y="266"/><use href="#c" x="449" y="265"/><use href="#c" x="449" y="264"/><use href="#c" x="449" y="266"/><use href="#c" x="451" y="269"/><use href="#c" x="314" y="228"/><use href="#c" x="320" y="199"/><use href="#c" x="391" y="101"/><use href="#c" x="363" y="94"/><use href="#c" x="333" y="249"/><use href="#c" x="335" y="244"/><use href="#c" x="333" y="255"/><use href="#c" x="332" y="245"/><use href="#c" x="335" y="234"/><use href="#c" x="331" y="256"/><use href="#c" x="331" y="256"/><use href="#c" x="334" y="245"/><use href="#c" x="334" y="245"/><use href="#c" x="325" y="289"/><use href="#c" x="438" y="212"/><use href="#c" x="360" y="95"/><use href="#c" x="355" y="132"/><use href="#c" x="353" y="102"/><use href="#c" x="324" y="164"/><use href="#c" x="308" y="290"/><use href="#c" x="375" y="89"/><use href="#c" x="305" y="216"/><use href="#c" x="299" y="320"/><use href="#c" x="286" y="334"/><use href="#c" x="458" y="266"/><use href="#c" x="383" y="170"/><use href="#c" x="380" y="92"/><use href="#c" x="406" y="253"/><use href="#c" x="427" y="183"/><use href="#c" x="260" y="316"/><use href="#c" x="390" y="198"/><use href="#c" x="344" y="210"/><use href="#c" x="383" y="223"/><use href="#c" x="393" y="143"/><use href="#c" x="361" y="107"/><use href="#c" x="412" y="143"/><use href="#c" x="472" y="299"/><use href="#c" x="284" y="271"/><use href="#c" x="436" y="209"/><use href="#c" x="480" y="314"/><use href="#c" x="435" y="260"/><use href="#c" x="387" y="145"/><use href="#c" x="396" y="132"/><use href="#c" x="474" y="336"/><use href="#c" x="402" y="227"/><use href="#c" x="416" y="165"/><use href="#c" x="414" y="183"/><use href="#c" x="358" y="176"/><use href="#c" x="368" y="99"/><use href="#c" x="370" y="125"/><use href="#c" x="366" y="123"/><use href="#c" x="372" y="127"/><use href="#c" x="369" y="129"/><use href="#c" x="274" y="294"/><use href="#c" x="366" y="136"/><use href="#c" x="390" y="215"/><use href="#c" x="319" y="324"/><use href="#c" x="461" y="356"/><use href="#c" x="407" y="153"/><use href="#c" x="270" y="318"/><use href="#c" x="351" y="108"/><use href="#c" x="346" y="238"/><use href="#c" x="410" y="332"/><use href="#c" x="288" y="320"/><use href="#c" x="441" y="224"/><use href="#c" x="471" y="346"/><use href="#c" x="347" y="138"/><use href="#c" x="358" y="125"/><use href="#c" x="249" y="331"/><use href="#c" x="386" y="130"/><use href="#c" x="329" y="151"/><use href="#c" x="343" y="248"/><use href="#c" x="461" y="298"/><use href="#c" x="430" y="246"/><use href="#c" x="299" y="240"/><use href="#c" x="498" y="338"/><use href="#c" x="308" y="205"/><use href="#c" x="380" y="192"/><use href="#c" x="355" y="178"/><use href="#c" x="368" y="88"/><use href="#c" x="430" y="285"/><use href="#c" x="356" y="105"/><use href="#c" x="233" y="353"/><use href="#c" x="383" y="237"/><use href="#c" x="340" y="147"/><use href="#c" x="320" y="227"/><use href="#c" x="398" y="257"/><use href="#c" x="351" y="296"/><use href="#c" x="340" y="172"/><use href="#c" x="317" y="183"/><use href="#c" x="321" y="168"/><use href="#c" x="369" y="280"/><use href="#c" x="393" y="286"/><use href="#c" x="487" y="329"/><use href="#c" x="313" y="217"/><use href="#c" x="367" y="88"/><use href="#c" x="366" y="88"/><use href="#c" x="326" y="157"/><use href="#c" x="363" y="333"/><use href="#c" x="305" y="223"/><use href="#c" x="404" y="151"/><use href="#c" x="468" y="341"/><use href="#c" x="440" y="354"/><use href="#c" x="377" y="109"/><use href="#c" x="408" y="159"/><use href="#c" x="311" y="226"/><use href="#c" x="246" y="335"/><use href="#c" x="362" y="125"/><use href="#c" x="373" y="125"/><use href="#c" x="315" y="353"/><use href="#c" x="327" y="170"/><use href="#c" x="386" y="117"/><use href="#c" x="389" y="118"/><use href="#c" x="351" y="200"/><use href="#c" x="412" y="279"/><use href="#c" x="238" y="354"/><use href="#c" x="238" y="353"/><use href="#c" x="239" y="354"/><use href="#c" x="237" y="353"/><use href="#c" x="238" y="354"/><use href="#c" x="242" y="352"/><use href="#c" x="237" y="355"/><use href="#c" x="475" y="353"/><use href="#c" x="400" y="125"/><use href="#c" x="401" y="199"/><use href="#c" x="373" y="122"/><use href="#c" x="442" y="248"/><use href="#c" x="441" y="225"/><use href="#c" x="356" y="246"/><use href="#c" x="334" y="146"/><use href="#c" x="376" y="137"/><use href="#c" x="390" y="103"/><use href="#c" x="302" y="245"/><use href="#c" x="384" y="120"/><use href="#c" x="477" y="310"/><use href="#c" x="404" y="321"/><use href="#c" x="445" y="347"/><use href="#c" x="332" y="188"/><use href="#c" x="460" y="299"/><use href="#c" x="535" y="367"/><use href="#c" x="424" y="214"/><use href="#c" x="353" y="255"/><use href="#c" x="349" y="126"/><use href="#c" x="377" y="98"/><use href="#c" x="316" y="216"/><use href="#c" x="387" y="141"/><use href="#c" x="368" y="95"/><use href="#c" x="365" y="89"/><use href="#c" x="436" y="312"/><use href="#c" x="460" y="277"/><use href="#c" x="296" y="258"/><use href="#c" x="306" y="361"/><use href="#c" x="304" y="361"/><use href="#c" x="303" y="361"/><use href="#c" x="324" y="258"/><use href="#c" x="282" y="323"/><use href="#c" x="285" y="321"/><use href="#c" x="377" y="108"/><use href="#c" x="414" y="307"/><use href="#c" x="354" y="99"/><use href="#c" x="376" y="100"/><use href="#c" x="238" y="343"/><use href="#c" x="409" y="156"/><use href="#c" x="379" y="158"/><use href="#c" x="327" y="156"/><use href="#c" x="392" y="259"/><use href="#c" x="322" y="198"/><use href="#c" x="503" y="343"/><use href="#c" x="411" y="156"/><use href="#c" x="388" y="98"/><use href="#c" x="366" y="97"/><use href="#c" x="440" y="219"/><use href="#c" x="392" y="105"/><use href="#c" x="220" y="355"/><use href="#c" x="409" y="277"/><use href="#c" x="390" y="190"/><use href="#c" x="350" y="135"/><use href="#c" x="315" y="281"/><use href="#c" x="280" y="287"/><use href="#c" x="412" y="184"/><use href="#c" x="434" y="218"/><use href="#c" x="415" y="202"/><use href="#c" x="301" y="226"/><use href="#c" x="347" y="365"/><use href="#c" x="313" y="315"/><use href="#c" x="440" y="319"/><use href="#c" x="265" y="310"/><use href="#c" x="425" y="230"/><use href="#c" x="401" y="249"/><use href="#c" x="290" y="261"/><use href="#c" x="423" y="172"/><use href="#c" x="521" y="354"/><use href="#c" x="464" y="281"/><use href="#c" x="343" y="287"/><use href="#c" x="368" y="287"/><use href="#c" x="323" y="285"/><use href="#c" x="469" y="302"/><use href="#c" x="413" y="146"/><use href="#c" x="284" y="326"/><use href="#c" x="338" y="348"/><use href="#c" x="414" y="160"/><use href="#c" x="384" y="95"/><use href="#c" x="359" y="104"/><use href="#c" x="367" y="297"/><use href="#c" x="379" y="89"/><use href="#c" x="381" y="89"/><use href="#c" x="379" y="88"/><use href="#c" x="380" y="92"/><use href="#c" x="377" y="88"/><use href="#c" x="377" y="89"/><use href="#c" x="465" y="321"/><use href="#c" x="462" y="277"/><use href="#c" x="384" y="254"/><use href="#c" x="338" y="126"/><use href="#c" x="462" y="275"/><use href="#c" x="359" y="266"/><use href="#c" x="346" y="113"/><use href="#c" x="414" y="150"/><use href="#c" x="237" y="343"/><use href="#c" x="358" y="102"/><use href="#c" x="357" y="218"/><use href="#c" x="424" y="199"/><use href="#c" x="420" y="186"/><use href="#c" x="424" y="194"/><use href="#c" x="424" y="193"/><use href="#c" x="422" y="196"/><use href="#c" x="427" y="206"/><use href="#c" x="427" y="202"/><use href="#c" x="273" y="293"/><use href="#c" x="426" y="287"/><use href="#c" x="346" y="334"/><use href="#c" x="418" y="247"/><use href="#c" x="280" y="282"/><use href="#c" x="270" y="298"/><use href="#c" x="422" y="203"/><use href="#c" x="328" y="166"/><use href="#c" x="389" y="189"/><use href="#c" x="431" y="288"/><use href="#c" x="451" y="249"/><use href="#c" x="379" y="247"/><use href="#c" x="413" y="231"/><use href="#c" x="500" y="337"/><use href="#c" x="461" y="279"/><use href="#c" x="309" y="329"/><use href="#c" x="280" y="362"/><use href="#c" x="400" y="124"/><use href="#c" x="301" y="224"/><use href="#c" x="434" y="206"/><use href="#c" x="437" y="216"/><use href="#c" x="433" y="202"/><use href="#c" x="430" y="196"/><use href="#c" x="432" y="199"/><use href="#c" x="435" y="209"/><use href="#c" x="436" y="212"/><use href="#c" x="432" y="202"/><use href="#c" x="334" y="271"/><use href="#c" x="419" y="270"/><use href="#c" x="300" y="291"/><use href="#c" x="413" y="279"/><use href="#c" x="310" y="265"/><use href="#c" x="368" y="120"/><use href="#c" x="343" y="145"/><use href="#c" x="416" y="153"/><use href="#c" x="420" y="166"/><use href="#c" x="369" y="110"/><use href="#c" x="425" y="194"/><use href="#c" x="352" y="204"/><use href="#c" x="471" y="311"/><use href="#c" x="469" y="307"/><use href="#c" x="473" y="314"/><use href="#c" x="386" y="133"/><use href="#c" x="431" y="197"/><use href="#c" x="373" y="104"/><use href="#c" x="336" y="144"/><use href="#c" x="257" y="344"/><use href="#c" x="376" y="88"/><use href="#c" x="459" y="271"/><use href="#c" x="508" y="349"/><use href="#c" x="347" y="285"/><use href="#c" x="411" y="141"/><use href="#c" x="392" y="112"/><use href="#c" x="418" y="176"/><use href="#c" x="489" y="324"/><use href="#c" x="363" y="139"/><use href="#c" x="349" y="105"/><use href="#c" x="398" y="123"/><use href="#c" x="420" y="219"/><use href="#c" x="359" y="191"/><use href="#c" x="412" y="175"/><use href="#c" x="387" y="341"/><use href="#c" x="352" y="161"/><use href="#c" x="325" y="164"/><use href="#c" x="383" y="322"/><use href="#c" x="404" y="185"/><use href="#c" x="344" y="246"/><use href="#c" x="324" y="172"/><use href="#c" x="456" y="261"/><use href="#c" x="388" y="111"/><use href="#c" x="386" y="113"/><use href="#c" x="349" y="170"/><use href="#c" x="364" y="204"/><use href="#c" x="352" y="171"/><use href="#c" x="341" y="156"/><use href="#c" x="439" y="217"/><use href="#c" x="405" y="132"/><use href="#c" x="369" y="279"/><use href="#c" x="312" y="200"/><use href="#c" x="354" y="118"/><use href="#c" x="459" y="315"/><use href="#c" x="308" y="310"/><use href="#c" x="485" y="361"/><use href="#c" x="251" y="344"/><use href="#c" x="421" y="180"/><use href="#c" x="286" y="271"/><use href="#c" x="449" y="248"/><use href="#c" x="425" y="177"/><use href="#c" x="396" y="124"/><use href="#c" x="398" y="127"/><use href="#c" x="392" y="113"/><use href="#c" x="399" y="125"/><use href="#c" x="395" y="131"/><use href="#c" x="246" y="335"/><use href="#c" x="433" y="197"/><use href="#c" x="322" y="245"/><use href="#c" x="324" y="273"/><use href="#c" x="299" y="346"/><use href="#c" x="361" y="91"/><use href="#c" x="524" y="356"/><use href="#c" x="324" y="298"/><use href="#c" x="376" y="330"/><use href="#c" x="341" y="135"/><use href="#c" x="243" y="341"/><use href="#c" x="439" y="236"/><use href="#c" x="496" y="337"/><use href="#c" x="347" y="110"/><use href="#c" x="384" y="93"/><use href="#c" x="374" y="256"/><use href="#c" x="319" y="195"/><use href="#c" x="346" y="137"/><use href="#c" x="421" y="354"/><use href="#c" x="467" y="333"/><use href="#c" x="391" y="141"/><use href="#c" x="391" y="134"/><use href="#c" x="287" y="269"/><use href="#c" x="354" y="128"/><use href="#c" x="296" y="249"/><use href="#c" x="523" y="355"/><use href="#c" x="389" y="255"/><use href="#c" x="479" y="325"/><use href="#c" x="319" y="175"/><use href="#c" x="441" y="226"/><use href="#c" x="347" y="327"/><use href="#c" x="344" y="328"/><use href="#c" x="348" y="324"/><use href="#c" x="351" y="327"/><use href="#c" x="282" y="276"/><use href="#c" x="377" y="96"/><use href="#c" x="310" y="237"/><use href="#c" x="280" y="306"/><use href="#c" x="355" y="179"/><use href="#c" x="382" y="143"/><use href="#c" x="300" y="312"/><use href="#c" x="328" y="281"/><use href="#c" x="442" y="232"/><use href="#c" x="391" y="125"/><use href="#c" x="348" y="179"/><use href="#c" x="353" y="281"/><use href="#c" x="334" y="167"/><use href="#c" x="390" y="103"/><use href="#c" x="373" y="107"/><use href="#c" x="524" y="358"/><use href="#c" x="355" y="174"/><use href="#c" x="376" y="274"/><use href="#c" x="386" y="257"/><use href="#c" x="369" y="186"/><use href="#c" x="364" y="147"/><use href="#c" x="341" y="319"/><use href="#c" x="366" y="94"/><use href="#c" x="225" y="352"/><use href="#c" x="242" y="367"/><use href="#c" x="328" y="162"/><use href="#c" x="398" y="235"/><use href="#c" x="443" y="266"/><use href="#c" x="343" y="121"/><use href="#c" x="383" y="333"/><use href="#c" x="408" y="133"/><use href="#c" x="451" y="281"/><use href="#c" x="433" y="214"/><use href="#c" x="386" y="103"/><use href="#c" x="437" y="326"/><use href="#c" x="343" y="118"/><use href="#c" x="380" y="168"/><use href="#c" x="364" y="256"/><use href="#c" x="316" y="208"/><use href="#c" x="403" y="126"/><use href="#c" x="294" y="338"/><use href="#c" x="435" y="338"/><use href="#c" x="380" y="90"/><use href="#c" x="407" y="323"/><use href="#c" x="376" y="213"/><use href="#c" x="380" y="108"/><use href="#c" x="418" y="159"/><use href="#c" x="323" y="174"/><use href="#c" x="413" y="198"/><use href="#c" x="454" y="355"/><use href="#c" x="367" y="95"/><use href="#c" x="434" y="205"/><use href="#c" x="455" y="318"/><use href="#c" x="318" y="179"/><use href="#c" x="317" y="181"/><use href="#c" x="320" y="173"/><use href="#c" x="403" y="145"/><use href="#c" x="351" y="121"/><use href="#c" x="420" y="250"/><use href="#c" x="407" y="362"/><use href="#c" x="438" y="354"/><use href="#c" x="293" y="329"/><use href="#c" x="342" y="174"/><use href="#c" x="340" y="174"/><use href="#c" x="337" y="181"/><use href="#c" x="340" y="170"/><use href="#c" x="343" y="175"/><use href="#c" x="338" y="188"/><use href="#c" x="343" y="168"/><use href="#c" x="344" y="164"/><use href="#c" x="255" y="352"/><use href="#c" x="456" y="342"/><use href="#c" x="435" y="308"/><use href="#c" x="437" y="212"/><use href="#c" x="243" y="339"/><use href="#c" x="243" y="339"/><use href="#c" x="445" y="237"/><use href="#c" x="304" y="233"/><use href="#c" x="266" y="336"/><use href="#c" x="372" y="87"/><use href="#c" x="318" y="182"/><use href="#c" x="343" y="209"/><use href="#c" x="466" y="320"/><use href="#c" x="386" y="184"/><use href="#c" x="385" y="96"/><use href="#c" x="406" y="332"/><use href="#c" x="295" y="256"/><use href="#c" x="354" y="101"/><use href="#c" x="342" y="141"/><use href="#c" x="427" y="198"/><use href="#c" x="423" y="175"/><use href="#c" x="423" y="174"/><use href="#c" x="427" y="187"/><use href="#c" x="421" y="169"/><use href="#c" x="420" y="167"/><use href="#c" x="419" y="163"/><use href="#c" x="421" y="167"/><use href="#c" x="425" y="178"/><use href="#c" x="423" y="174"/><use href="#c" x="425" y="180"/><use href="#c" x="422" y="171"/><use href="#c" x="425" y="180"/><use href="#c" x="420" y="167"/><use href="#c" x="423" y="174"/><use href="#c" x="310" y="292"/><use href="#c" x="360" y="230"/><use href="#c" x="340" y="139"/><use href="#c" x="388" y="233"/><use href="#c" x="417" y="168"/><use href="#c" x="408" y="205"/><use href="#c" x="410" y="140"/><use href="#c" x="450" y="249"/><use href="#c" x="477" y="335"/><use href="#c" x="365" y="93"/><use href="#c" x="396" y="148"/><use href="#c" x="400" y="199"/><use href="#c" x="382" y="181"/><use href="#c" x="474" y="311"/><use href="#c" x="346" y="191"/><use href="#c" x="337" y="133"/><use href="#c" x="407" y="137"/><use href="#c" x="208" y="361"/><use href="#c" x="450" y="299"/><use href="#c" x="357" y="290"/><use href="#c" x="318" y="178"/><use href="#c" x="273" y="294"/><use href="#c" x="322" y="343"/><use href="#c" x="296" y="255"/><use href="#c" x="416" y="164"/><use href="#c" x="334" y="220"/><use href="#c" x="431" y="210"/><use href="#c" x="350" y="110"/><use href="#c" x="256" y="342"/><use href="#c" x="218" y="356"/><use href="#c" x="318" y="337"/><use href="#c" x="363" y="327"/><use href="#c" x="475" y="319"/><use href="#c" x="490" y="331"/><use href="#c" x="418" y="280"/><use href="#c" x="341" y="230"/><use href="#c" x="325" y="189"/><use href="#c" x="491" y="343"/><use href="#c" x="368" y="231"/><use href="#c" x="340" y="145"/><use href="#c" x="374" y="115"/><use href="#c" x="467" y="347"/><use href="#c" x="397" y="137"/><use href="#c" x="362" y="116"/><use href="#c" x="483" y="324"/><use href="#c" x="325" y="234"/><use href="#c" x="357" y="311"/><use href="#c" x="327" y="162"/><use href="#c" x="294" y="267"/><use href="#c" x="408" y="209"/><use href="#c" x="296" y="248"/><use href="#c" x="392" y="111"/><use href="#c" x="544" y="362"/><use href="#c" x="449" y="317"/><use href="#c" x="311" y="209"/><use href="#c" x="385" y="198"/><use href="#c" x="308" y="208"/><use href="#c" x="318" y="179"/><use href="#c" x="291" y="341"/><use href="#c" x="355" y="150"/><use href="#c" x="445" y="242"/><use href="#c" x="405" y="126"/><use href="#c" x="412" y="150"/><use href="#c" x="322" y="171"/><use href="#c" x="441" y="236"/><use href="#c" x="392" y="167"/><use href="#c" x="407" y="202"/><use href="#c" x="343" y="145"/><use href="#c" x="462" y="274"/><use href="#c" x="420" y="182"/><use href="#c" x="351" y="106"/><use href="#c" x="288" y="322"/><use href="#c" x="420" y="268"/><use href="#c" x="371" y="228"/><use href="#c" x="352" y="342"/><use href="#c" x="389" y="98"/><use href="#c" x="369" y="359"/><use href="#c" x="384" y="126"/><use href="#c" x="422" y="174"/><use href="#c" x="361" y="190"/><use href="#c" x="475" y="318"/><use href="#c" x="394" y="120"/><use href="#c" x="325" y="164"/><use href="#c" x="279" y="312"/><use href="#c" x="445" y="233"/><use href="#c" x="450" y="254"/><use href="#c" x="267" y="331"/><use href="#c" x="412" y="246"/><use href="#c" x="341" y="198"/><use href="#c" x="397" y="254"/><use href="#c" x="475" y="318"/><use href="#c" x="439" y="257"/><use href="#c" x="249" y="332"/><use href="#c" x="507" y="362"/><use href="#c" x="339" y="174"/><use href="#c" x="386" y="96"/><use href="#c" x="365" y="107"/><use href="#c" x="463" y="278"/><use href="#c" x="319" y="179"/><use href="#c" x="408" y="311"/><use href="#c" x="374" y="321"/><use href="#c" x="355" y="173"/><use href="#c" x="322" y="222"/><use href="#c" x="417" y="298"/><use href="#c" x="415" y="188"/><use href="#c" x="300" y="245"/><use href="#c" x="380" y="139"/><use href="#c" x="290" y="254"/><use href="#c" x="372" y="101"/><use href="#c" x="404" y="130"/><use href="#c" x="367" y="303"/><use href="#c" x="518" y="355"/><use href="#c" x="539" y="362"/><use href="#c" x="295" y="242"/><use href="#c" x="409" y="147"/><use href="#c" x="407" y="143"/><use href="#c" x="408" y="142"/><use href="#c" x="411" y="154"/><use href="#c" x="408" y="145"/><use href="#c" x="405" y="198"/><use href="#c" x="266" y="313"/><use href="#c" x="494" y="331"/><use href="#c" x="371" y="156"/><use href="#c" x="383" y="121"/><use href="#c" x="452" y="267"/><use href="#c" x="460" y="315"/><use href="#c" x="405" y="149"/><use href="#c" x="353" y="104"/><use href="#c" x="473" y="300"/><use href="#c" x="283" y="272"/><use href="#c" x="412" y="143"/><use href="#c" x="434" y="232"/><use href="#c" x="494" y="331"/><use href="#c" x="413" y="167"/><use href="#c" x="343" y="196"/><use href="#c" x="389" y="123"/><use href="#c" x="324" y="165"/><use href="#c" x="434" y="253"/><use href="#c" x="413" y="148"/><use href="#c" x="281" y="302"/><use href="#c" x="338" y="129"/><use href="#c" x="360" y="99"/><use href="#c" x="355" y="98"/><use href="#c" x="346" y="116"/><use href="#c" x="431" y="253"/><use href="#c" x="375" y="288"/><use href="#c" x="378" y="88"/><use href="#c" x="353" y="163"/><use href="#c" x="424" y="195"/><use href="#c" x="376" y="205"/><use href="#c" x="366" y="111"/><use href="#c" x="455" y="315"/><use href="#c" x="506" y="358"/><use href="#c" x="303" y="327"/><use href="#c" x="355" y="223"/><use href="#c" x="372" y="92"/><use href="#c" x="321" y="188"/><use href="#c" x="294" y="324"/><use href="#c" x="404" y="248"/><use href="#c" x="320" y="172"/><use href="#c" x="403" y="208"/><use href="#c" x="354" y="359"/><use href="#c" x="419" y="301"/><use href="#c" x="372" y="114"/><use href="#c" x="337" y="295"/><use href="#c" x="267" y="341"/><use href="#c" x="379" y="91"/><use href="#c" x="198" y="365"/><use href="#c" x="482" y="320"/><use href="#c" x="481" y="319"/><use href="#c" x="404" y="133"/><use href="#c" x="363" y="103"/><use href="#c" x="364" y="100"/><use href="#c" x="361" y="102"/><use href="#c" x="362" y="97"/><use href="#c" x="461" y="280"/><use href="#c" x="317" y="353"/><use href="#c" x="199" y="365"/><use href="#c" x="356" y="128"/><use href="#c" x="449" y="245"/><use href="#c" x="271" y="301"/><use href="#c" x="375" y="106"/><use href="#c" x="365" y="216"/><use href="#c" x="441" y="306"/><use href="#c" x="338" y="246"/><use href="#c" x="333" y="320"/><use href="#c" x="304" y="272"/><use href="#c" x="367" y="90"/><use href="#c" x="363" y="98"/><use href="#c" x="413" y="331"/><use href="#c" x="291" y="263"/><use href="#c" x="434" y="208"/><use href="#c" x="287" y="290"/><use href="#c" x="448" y="332"/><use href="#c" x="356" y="122"/><use href="#c" x="303" y="351"/><use href="#c" x="303" y="351"/><use href="#c" x="302" y="351"/><use href="#c" x="304" y="350"/><use href="#c" x="305" y="349"/><use href="#c" x="303" y="350"/><use href="#c" x="381" y="116"/><use href="#c" x="365" y="152"/><use href="#c" x="342" y="123"/><use href="#c" x="471" y="306"/><use href="#c" x="244" y="338"/><use href="#c" x="297" y="291"/><use href="#c" x="367" y="267"/><use href="#c" x="434" y="204"/><use href="#c" x="443" y="228"/><use href="#c" x="386" y="97"/><use href="#c" x="415" y="155"/><use href="#c" x="317" y="253"/><use href="#c" x="321" y="287"/><use href="#c" x="327" y="282"/><use href="#c" x="321" y="290"/><use href="#c" x="323" y="284"/><use href="#c" x="292" y="297"/><use href="#c" x="461" y="315"/><use href="#c" x="342" y="169"/><use href="#c" x="255" y="324"/><use href="#c" x="313" y="247"/><use href="#c" x="370" y="119"/><use href="#c" x="472" y="298"/><use href="#c" x="405" y="125"/><use href="#c" x="462" y="301"/><use href="#c" x="337" y="195"/><use href="#c" x="384" y="116"/><use href="#c" x="258" y="363"/><use href="#c" x="300" y="286"/><use href="#c" x="388" y="287"/><use href="#c" x="366" y="330"/><use href="#c" x="315" y="197"/><use href="#c" x="456" y="355"/><use href="#c" x="353" y="181"/><use href="#c" x="347" y="234"/><use href="#c" x="332" y="142"/><use href="#c" x="442" y="238"/><use href="#c" x="318" y="182"/><use href="#c" x="230" y="354"/><use href="#c" x="330" y="150"/><use href="#c" x="418" y="164"/><use href="#c" x="377" y="139"/><use href="#c" x="436" y="207"/><use href="#c" x="432" y="305"/><use href="#c" x="329" y="159"/><use href="#c" x="357" y="124"/><use href="#c" x="366" y="328"/><use href="#c" x="319" y="363"/><use href="#c" x="520" y="353"/><use href="#c" x="386" y="236"/><use href="#c" x="475" y="339"/><use href="#c" x="245" y="336"/><use href="#c" x="287" y="294"/><use href="#c" x="365" y="279"/><use href="#c" x="353" y="363"/><use href="#c" x="463" y="296"/><use href="#c" x="313" y="197"/><use href="#c" x="462" y="300"/><use href="#c" x="401" y="126"/><use href="#c" x="466" y="291"/><use href="#c" x="312" y="211"/><use href="#c" x="343" y="120"/><use href="#c" x="342" y="150"/><use href="#c" x="334" y="141"/><use href="#c" x="494" y="342"/><use href="#c" x="295" y="256"/><use href="#c" x="283" y="284"/><use href="#c" x="306" y="349"/><use href="#c" x="308" y="211"/><use href="#c" x="294" y="355"/><use href="#c" x="382" y="116"/><use href="#c" x="410" y="160"/><use href="#c" x="367" y="215"/><use href="#c" x="442" y="287"/><use href="#c" x="451" y="298"/><use href="#c" x="345" y="143"/><use href="#c" x="359" y="355"/><use href="#c" x="357" y="120"/><use href="#c" x="357" y="127"/><use href="#c" x="282" y="309"/><use href="#c" x="375" y="157"/><use href="#c" x="279" y="294"/><use href="#c" x="379" y="92"/><use href="#c" x="317" y="192"/><use href="#c" x="340" y="206"/><use href="#c" x="285" y="268"/><use href="#c" x="357" y="98"/><use href="#c" x="333" y="225"/><use href="#c" x="323" y="321"/><use href="#c" x="424" y="175"/><use href="#c" x="460" y="306"/><use href="#c" x="449" y="298"/><use href="#c" x="422" y="329"/><use href="#c" x="314" y="277"/><use href="#c" x="347" y="177"/><use href="#c" x="415" y="328"/><use href="#c" x="342" y="275"/><use href="#c" x="326" y="165"/><use href="#c" x="307" y="348"/><use href="#c" x="362" y="153"/><use href="#c" x="480" y="340"/><use href="#c" x="492" y="331"/><use href="#c" x="356" y="115"/><use href="#c" x="342" y="264"/><use href="#c" x="421" y="167"/><use href="#c" x="457" y="263"/><use href="#c" x="432" y="196"/><use href="#c" x="423" y="217"/><use href="#c" x="355" y="110"/><use href="#c" x="343" y="265"/><use href="#c" x="443" y="255"/><use href="#c" x="386" y="267"/><use href="#c" x="296" y="349"/><use href="#c" x="407" y="131"/><use href="#c" x="425" y="307"/><use href="#c" x="428" y="317"/><use href="#c" x="421" y="215"/><use href="#c" x="301" y="248"/><use href="#c" x="292" y="266"/><use href="#c" x="349" y="116"/><use href="#c" x="358" y="113"/><use href="#c" x="397" y="264"/><use href="#c" x="390" y="101"/><use href="#c" x="473" y="349"/><use href="#c" x="489" y="347"/><use href="#c" x="367" y="111"/><use href="#c" x="516" y="354"/><use href="#c" x="386" y="134"/><use href="#c" x="405" y="150"/><use href="#c" x="385" y="105"/><use href="#c" x="399" y="326"/><use href="#c" x="336" y="138"/><use href="#c" x="393" y="141"/><use href="#c" x="382" y="90"/><use href="#c" x="381" y="186"/><use href="#c" x="402" y="141"/><use href="#c" x="422" y="262"/><use href="#c" x="291" y="284"/><use href="#c" x="294" y="271"/><use href="#c" x="355" y="154"/><use href="#c" x="300" y="245"/><use href="#c" x="379" y="212"/><use href="#c" x="364" y="183"/><use href="#c" x="374" y="290"/><use href="#c" x="310" y="210"/><use href="#c" x="315" y="252"/><use href="#c" x="476" y="357"/><use href="#c" x="380" y="291"/><use href="#c" x="261" y="340"/><use href="#c" x="391" y="358"/><use href="#c" x="414" y="168"/><use href="#c" x="342" y="127"/><use href="#c" x="343" y="221"/><use href="#c" x="465" y="283"/><use href="#c" x="472" y="307"/><use href="#c" x="356" y="203"/><use href="#c" x="319" y="174"/><use href="#c" x="431" y="204"/><use href="#c" x="406" y="154"/><use href="#c" x="416" y="188"/><use href="#c" x="373" y="93"/><use href="#c" x="461" y="281"/><use href="#c" x="398" y="173"/><use href="#c" x="426" y="181"/><use href="#c" x="398" y="237"/><use href="#c" x="401" y="118"/><use href="#c" x="397" y="258"/><use href="#c" x="334" y="153"/><use href="#c" x="428" y="285"/><use href="#c" x="245" y="349"/><use href="#c" x="393" y="114"/><use href="#c" x="430" y="195"/><use href="#c" x="328" y="235"/><use href="#c" x="380" y="91"/><use href="#c" x="390" y="191"/><use href="#c" x="389" y="190"/><use href="#c" x="390" y="193"/><use href="#c" x="394" y="183"/><use href="#c" x="390" y="188"/><use href="#c" x="389" y="193"/><use href="#c" x="359" y="287"/><use href="#c" x="275" y="290"/><use href="#c" x="415" y="240"/><use href="#c" x="497" y="339"/><use href="#c" x="445" y="305"/><use href="#c" x="350" y="253"/><use href="#c" x="391" y="100"/><use href="#c" x="391" y="100"/><use href="#c" x="378" y="93"/><use href="#c" x="381" y="223"/><use href="#c" x="437" y="259"/><use href="#c" x="425" y="268"/><use href="#c" x="343" y="116"/><use href="#c" x="349" y="150"/><use href="#c" x="322" y="167"/><use href="#c" x="422" y="344"/><use href="#c" x="348" y="125"/><use href="#c" x="341" y="192"/><use href="#c" x="420" y="163"/><use href="#c" x="421" y="167"/><use href="#c" x="449" y="251"/><use href="#c" x="255" y="339"/><use href="#c" x="468" y="289"/><use href="#c" x="378" y="128"/><use href="#c" x="404" y="205"/><use href="#c" x="495" y="335"/><use href="#c" x="468" y="344"/><use href="#c" x="367" y="111"/><use href="#c" x="352" y="103"/><use href="#c" x="369" y="90"/><use href="#c" x="464" y="280"/><use href="#c" x="390" y="99"/><use href="#c" x="269" y="316"/><use href="#c" x="352" y="158"/><use href="#c" x="353" y="124"/><use href="#c" x="364" y="90"/><use href="#c" x="410" y="140"/><use href="#c" x="439" y="218"/><use href="#c" x="469" y="289"/><use href="#c" x="369" y="94"/><use href="#c" x="291" y="268"/><use href="#c" x="297" y="252"/><use href="#c" x="293" y="264"/><use href="#c" x="292" y="265"/><use href="#c" x="290" y="270"/><use href="#c" x="292" y="266"/><use href="#c" x="290" y="271"/><use href="#c" x="290" y="269"/><use href="#c" x="294" y="262"/><use href="#c" x="292" y="266"/><use href="#c" x="376" y="221"/><use href="#c" x="394" y="113"/><use href="#c" x="365" y="102"/><use href="#c" x="281" y="277"/><use href="#c" x="292" y="256"/><use href="#c" x="399" y="116"/><use href="#c" x="227" y="354"/><use href="#c" x="348" y="205"/><use href="#c" x="415" y="286"/><use href="#c" x="395" y="107"/><use href="#c" x="336" y="169"/><use href="#c" x="280" y="279"/><use href="#c" x="252" y="341"/><use href="#c" x="336" y="131"/><use href="#c" x="474" y="304"/><use href="#c" x="371" y="222"/><use href="#c" x="297" y="248"/><use href="#c" x="325" y="162"/><use href="#c" x="347" y="174"/><use href="#c" x="243" y="349"/><use href="#c" x="415" y="302"/><use href="#c" x="373" y="218"/><use href="#c" x="284" y="328"/><use href="#c" x="324" y="172"/><use href="#c" x="408" y="137"/><use href="#c" x="428" y="252"/><use href="#c" x="397" y="154"/><use href="#c" x="486" y="340"/><use href="#c" x="413" y="154"/><use href="#c" x="441" y="280"/><use href="#c" x="441" y="226"/><use href="#c" x="386" y="160"/><use href="#c" x="358" y="227"/><use href="#c" x="305" y="219"/><use href="#c" x="356" y="185"/><use href="#c" x="449" y="250"/><use href="#c" x="451" y="253"/><use href="#c" x="448" y="248"/><use href="#c" x="300" y="288"/><use href="#c" x="487" y="321"/><use href="#c" x="390" y="204"/><use href="#c" x="369" y="99"/><use href="#c" x="323" y="180"/><use href="#c" x="243" y="341"/><use href="#c" x="442" y="228"/><use href="#c" x="329" y="222"/><use href="#c" x="431" y="221"/><use href="#c" x="303" y="233"/><use href="#c" x="391" y="104"/><use href="#c" x="341" y="122"/><use href="#c" x="347" y="154"/><use href="#c" x="311" y="319"/><use href="#c" x="336" y="147"/><use href="#c" x="432" y="229"/><use href="#c" x="382" y="188"/><use href="#c" x="447" y="250"/><use href="#c" x="429" y="207"/><use href="#c" x="433" y="253"/><use href="#c" x="384" y="92"/><use href="#c" x="330" y="359"/><use href="#c" x="279" y="348"/><use href="#c" x="419" y="178"/><use href="#c" x="341" y="153"/><use href="#c" x="337" y="130"/><use href="#c" x="336" y="134"/><use href="#c" x="376" y="216"/><use href="#c" x="388" y="139"/><use href="#c" x="284" y="293"/><use href="#c" x="313" y="192"/><use href="#c" x="309" y="328"/><use href="#c" x="405" y="135"/><use href="#c" x="383" y="92"/><use href="#c" x="321" y="171"/><use href="#c" x="308" y="238"/><use href="#c" x="394" y="162"/><use href="#c" x="452" y="302"/><use href="#c" x="264" y="312"/><use href="#c" x="421" y="174"/><use href="#c" x="340" y="259"/><use href="#c" x="382" y="315"/><use href="#c" x="364" y="119"/><use href="#c" x="387" y="179"/><use href="#c" x="460" y="359"/><use href="#c" x="337" y="172"/><use href="#c" x="380" y="94"/><use href="#c" x="459" y="268"/><use href="#c" x="476" y="306"/><use href="#c" x="333" y="151"/><use href="#c" x="362" y="92"/><use href="#c" x="332" y="148"/><use href="#c" x="481" y="348"/><use href="#c" x="363" y="120"/><use href="#c" x="309" y="221"/><use href="#c" x="329" y="242"/><use href="#c" x="206" y="363"/><use href="#c" x="316" y="275"/><use href="#c" x="462" y="275"/><use href="#c" x="273" y="295"/><use href="#c" x="429" y="286"/><use href="#c" x="352" y="110"/><use href="#c" x="358" y="246"/><use href="#c" x="360" y="96"/><use href="#c" x="423" y="174"/><use href="#c" x="388" y="97"/><use href="#c" x="387" y="137"/><use href="#c" x="458" y="353"/><use href="#c" x="486" y="321"/><use href="#c" x="357" y="168"/><use href="#c" x="395" y="134"/><use href="#c" x="397" y="255"/><use href="#c" x="499" y="347"/><use href="#c" x="311" y="202"/><use href="#c" x="410" y="186"/><use href="#c" x="317" y="265"/><use href="#c" x="426" y="294"/><use href="#c" x="433" y="249"/><use href="#c" x="457" y="274"/><use href="#c" x="362" y="255"/><use href="#c" x="440" y="253"/><use href="#c" x="429" y="302"/><use href="#c" x="442" y="329"/><use href="#c" x="364" y="230"/><use href="#c" x="463" y="342"/><use href="#c" x="389" y="304"/><use href="#c" x="359" y="193"/><use href="#c" x="387" y="229"/><use href="#c" x="327" y="293"/><use href="#c" x="420" y="274"/><use href="#c" x="472" y="346"/><use href="#c" x="357" y="355"/><use href="#c" x="427" y="255"/><use href="#c" x="313" y="191"/><use href="#c" x="419" y="291"/><use href="#c" x="407" y="226"/><use href="#c" x="426" y="294"/><use href="#c" x="287" y="269"/><use href="#c" x="350" y="314"/><use href="#c" x="400" y="123"/><use href="#c" x="369" y="87"/><use href="#c" x="453" y="266"/><use href="#c" x="347" y="124"/><use href="#c" x="425" y="192"/><use href="#c" x="370" y="87"/><use href="#c" x="409" y="177"/><use href="#c" x="348" y="315"/><use href="#c" x="468" y="293"/><use href="#c" x="524" y="356"/><use href="#c" x="327" y="207"/><use href="#c" x="342" y="132"/><use href="#c" x="376" y="275"/><use href="#c" x="298" y="351"/><use href="#c" x="281" y="323"/><use href="#c" x="347" y="113"/><use href="#c" x="394" y="119"/><use href="#c" x="321" y="192"/><use href="#c" x="311" y="201"/><use href="#c" x="404" y="218"/><use href="#c" x="330" y="151"/><use href="#c" x="334" y="140"/><use href="#c" x="329" y="155"/><use href="#c" x="330" y="157"/><use href="#c" x="368" y="87"/><use href="#c" x="359" y="123"/><use href="#c" x="371" y="89"/><use href="#c" x="334" y="146"/><use href="#c" x="380" y="156"/><use href="#c" x="385" y="162"/><use href="#c" x="367" y="187"/><use href="#c" x="356" y="142"/><use href="#c" x="396" y="126"/><use href="#c" x="255" y="326"/><use href="#c" x="313" y="238"/><use href="#c" x="327" y="215"/><use href="#c" x="364" y="94"/><use href="#c" x="293" y="247"/><use href="#c" x="514" y="366"/><use href="#c" x="380" y="297"/><use href="#c" x="318" y="285"/><use href="#c" x="347" y="183"/><use href="#c" x="324" y="180"/><use href="#c" x="427" y="183"/><use href="#c" x="433" y="213"/><use href="#c" x="369" y="217"/><use href="#c" x="367" y="109"/><use href="#c" x="451" y="263"/><use href="#c" x="417" y="155"/><use href="#c" x="344" y="259"/><use href="#c" x="407" y="142"/><use href="#c" x="264" y="351"/><use href="#c" x="537" y="361"/><use href="#c" x="417" y="268"/><use href="#c" x="369" y="103"/><use href="#c" x="377" y="122"/><use href="#c" x="311" y="218"/><use href="#c" x="420" y="259"/><use href="#c" x="462" y="274"/><use href="#c" x="422" y="211"/><use href="#c" x="443" y="315"/><use href="#c" x="355" y="210"/><use href="#c" x="281" y="297"/><use href="#c" x="321" y="181"/><use href="#c" x="351" y="165"/><use href="#c" x="328" y="319"/><use href="#c" x="436" y="231"/><use href="#c" x="380" y="89"/><use href="#c" x="303" y="225"/><use href="#c" x="437" y="333"/><use href="#c" x="275" y="341"/><use href="#c" x="301" y="236"/><use href="#c" x="277" y="286"/><use href="#c" x="436" y="217"/><use href="#c" x="489" y="327"/><use href="#c" x="382" y="95"/><use href="#c" x="320" y="177"/><use href="#c" x="357" y="99"/><use href="#c" x="302" y="255"/><use href="#c" x="396" y="129"/><use href="#c" x="478" y="317"/><use href="#c" x="329" y="248"/><use href="#c" x="477" y="364"/><use href="#c" x="327" y="325"/><use href="#c" x="379" y="209"/><use href="#c" x="241" y="340"/><use href="#c" x="407" y="134"/><use href="#c" x="490" y="327"/><use href="#c" x="367" y="123"/><use href="#c" x="363" y="130"/><use href="#c" x="343" y="120"/><use href="#c" x="372" y="116"/><use href="#c" x="384" y="99"/><use href="#c" x="432" y="200"/><use href="#c" x="340" y="133"/><use href="#c" x="317" y="239"/><use href="#c" x="303" y="264"/><use href="#c" x="347" y="238"/><use href="#c" x="462" y="276"/><use href="#c" x="341" y="129"/><use href="#c" x="327" y="259"/><use href="#c" x="345" y="193"/><use href="#c" x="342" y="125"/><use href="#c" x="389" y="143"/><use href="#c" x="343" y="126"/><use href="#c" x="369" y="112"/><use href="#c" x="435" y="207"/><use href="#c" x="337" y="203"/><use href="#c" x="350" y="221"/><use href="#c" x="322" y="176"/><use href="#c" x="440" y="219"/><use href="#c" x="422" y="297"/><use href="#c" x="230" y="354"/><use href="#c" x="431" y="296"/><use href="#c" x="322" y="193"/><use href="#c" x="367" y="88"/><use href="#c" x="413" y="240"/><use href="#c" x="384" y="97"/><use href="#c" x="409" y="187"/><use href="#c" x="253" y="352"/><use href="#c" x="412" y="196"/><use href="#c" x="412" y="179"/><use href="#c" x="422" y="308"/><use href="#c" x="405" y="252"/><use href="#c" x="389" y="106"/><use href="#c" x="358" y="132"/><use href="#c" x="305" y="215"/><use href="#c" x="252" y="329"/><use href="#c" x="433" y="211"/><use href="#c" x="453" y="267"/><use href="#c" x="317" y="182"/><use href="#c" x="505" y="343"/><use href="#c" x="306" y="290"/><use href="#c" x="368" y="241"/><use href="#c" x="464" y="282"/><use href="#c" x="373" y="184"/><use href="#c" x="331" y="240"/><use href="#c" x="368" y="157"/><use href="#c" x="303" y="220"/><use href="#c" x="402" y="157"/><use href="#c" x="444" y="236"/><use href="#c" x="357" y="95"/><use href="#c" x="380" y="122"/><use href="#c" x="363" y="142"/><use href="#c" x="307" y="213"/><use href="#c" x="370" y="266"/><use href="#c" x="412" y="225"/><use href="#c" x="376" y="320"/><use href="#c" x="335" y="135"/><use href="#c" x="350" y="296"/><use href="#c" x="427" y="184"/><use href="#c" x="393" y="114"/><use href="#c" x="391" y="201"/><use href="#c" x="423" y="275"/><use href="#c" x="401" y="123"/><use href="#c" x="397" y="118"/><use href="#c" x="401" y="126"/><use href="#c" x="400" y="124"/><use href="#c" x="403" y="130"/><use href="#c" x="399" y="118"/><use href="#c" x="370" y="206"/><use href="#c" x="366" y="203"/><use href="#c" x="380" y="89"/><use href="#c" x="473" y="356"/><use href="#c" x="418" y="210"/><use href="#c" x="352" y="115"/><use href="#c" x="412" y="158"/><use href="#c" x="330" y="158"/><use href="#c" x="403" y="148"/><use href="#c" x="421" y="252"/><use href="#c" x="386" y="201"/><use href="#c" x="403" y="218"/><use href="#c" x="372" y="111"/><use href="#c" x="384" y="158"/><use href="#c" x="284" y="327"/><use href="#c" x="352" y="119"/><use href="#c" x="358" y="128"/><use href="#c" x="288" y="268"/><use href="#c" x="374" y="142"/><use href="#c" x="429" y="193"/><use href="#c" x="344" y="146"/><use href="#c" x="379" y="278"/><use href="#c" x="385" y="109"/><use href="#c" x="467" y="295"/><use href="#c" x="448" y="248"/><use href="#c" x="477" y="310"/><use href="#c" x="437" y="224"/><use href="#c" x="463" y="281"/><use href="#c" x="455" y="258"/><use href="#c" x="444" y="261"/><use href="#c" x="304" y="226"/><use href="#c" x="429" y="187"/><use href="#c" x="444" y="233"/><use href="#c" x="369" y="87"/><use href="#c" x="423" y="171"/><use href="#c" x="258" y="353"/><use href="#c" x="408" y="286"/><use href="#c" x="413" y="160"/><use href="#c" x="388" y="123"/><use href="#c" x="286" y="307"/><use href="#c" x="373" y="323"/><use href="#c" x="404" y="285"/><use href="#c" x="401" y="166"/><use href="#c" x="402" y="128"/><use href="#c" x="402" y="120"/><use href="#c" x="356" y="216"/><use href="#c" x="290" y="321"/><use href="#c" x="372" y="112"/><use href="#c" x="240" y="348"/><use href="#c" x="425" y="274"/><use href="#c" x="377" y="253"/><use href="#c" x="429" y="265"/><use href="#c" x="285" y="354"/><use href="#c" x="402" y="130"/><use href="#c" x="405" y="149"/><use href="#c" x="280" y="290"/><use href="#c" x="419" y="185"/><use href="#c" x="395" y="108"/><use href="#c" x="423" y="269"/><use href="#c" x="386" y="109"/><use href="#c" x="413" y="167"/><use href="#c" x="490" y="334"/><use href="#c" x="470" y="324"/><use href="#c" x="250" y="346"/><use href="#c" x="400" y="225"/><use href="#c" x="366" y="123"/><use href="#c" x="379" y="181"/><use href="#c" x="351" y="104"/><use href="#c" x="444" y="337"/><use href="#c" x="399" y="262"/><use href="#c" x="412" y="335"/><use href="#c" x="459" y="271"/><use href="#c" x="475" y="339"/><use href="#c" x="369" y="88"/><use href="#c" x="360" y="96"/><use href="#c" x="387" y="95"/><use href="#c" x="419" y="236"/><use href="#c" x="405" y="297"/><use href="#c" x="396" y="109"/><use href="#c" x="403" y="126"/><use href="#c" x="348" y="118"/><use href="#c" x="463" y="287"/><use href="#c" x="456" y="267"/><use href="#c" x="403" y="122"/><use href="#c" x="385" y="121"/><use href="#c" x="522" y="359"/><use href="#c" x="335" y="151"/><use href="#c" x="323" y="171"/><use href="#c" x="321" y="175"/><use href="#c" x="323" y="173"/><use href="#c" x="321" y="177"/><use href="#c" x="430" y="196"/><use href="#c" x="395" y="117"/><use href="#c" x="434" y="289"/><use href="#c" x="260" y="345"/><use href="#c" x="422" y="169"/><use href="#c" x="395" y="208"/><use href="#c" x="201" y="364"/><use href="#c" x="355" y="121"/><use href="#c" x="349" y="217"/><use href="#c" x="287" y="263"/><use href="#c" x="282" y="276"/><use href="#c" x="389" y="140"/><use href="#c" x="407" y="135"/><use href="#c" x="375" y="87"/><use href="#c" x="387" y="118"/><use href="#c" x="368" y="105"/><use href="#c" x="376" y="217"/><use href="#c" x="316" y="189"/><use href="#c" x="502" y="340"/><use href="#c" x="308" y="207"/><use href="#c" x="341" y="139"/><use href="#c" x="382" y="95"/><use href="#c" x="372" y="126"/><use href="#c" x="334" y="336"/><use href="#c" x="459" y="272"/><use href="#c" x="307" y="213"/><use href="#c" x="282" y="287"/><use href="#c" x="357" y="164"/><use href="#c" x="358" y="166"/><use href="#c" x="358" y="155"/><use href="#c" x="385" y="115"/><use href="#c" x="361" y="132"/><use href="#c" x="363" y="262"/><use href="#c" x="297" y="311"/><use href="#c" x="293" y="317"/><use href="#c" x="298" y="311"/><use href="#c" x="298" y="312"/><use href="#c" x="368" y="99"/><use href="#c" x="336" y="139"/><use href="#c" x="274" y="366"/><use href="#c" x="381" y="168"/><use href="#c" x="382" y="106"/><use href="#c" x="296" y="254"/><use href="#c" x="402" y="163"/><use href="#c" x="315" y="187"/><use href="#c" x="446" y="244"/><use href="#c" x="455" y="260"/><use href="#c" x="387" y="265"/><use href="#c" x="315" y="197"/><use href="#c" x="337" y="136"/><use href="#c" x="264" y="320"/><use href="#c" x="358" y="291"/><use href="#c" x="335" y="143"/><use href="#c" x="388" y="98"/><use href="#c" x="288" y="279"/><use href="#c" x="307" y="308"/><use href="#c" x="238" y="346"/><use href="#c" x="393" y="129"/><use href="#c" x="346" y="307"/><use href="#c" x="406" y="232"/><use href="#c" x="374" y="204"/><use href="#c" x="334" y="154"/><use href="#c" x="290" y="304"/><use href="#c" x="421" y="340"/><use href="#c" x="307" y="209"/><use href="#c" x="332" y="147"/><use href="#c" x="363" y="101"/><use href="#c" x="423" y="239"/><use href="#c" x="408" y="132"/><use href="#c" x="352" y="253"/><use href="#c" x="355" y="282"/><use href="#c" x="363" y="130"/><use href="#c" x="285" y="299"/><use href="#c" x="366" y="306"/><use href="#c" x="257" y="351"/><use href="#c" x="298" y="319"/><use href="#c" x="333" y="327"/><use href="#c" x="424" y="176"/><use href="#c" x="292" y="248"/><use href="#c" x="450" y="323"/><use href="#c" x="231" y="350"/><use href="#c" x="257" y="332"/><use href="#c" x="336" y="133"/><use href="#c" x="410" y="344"/><use href="#c" x="498" y="346"/><use href="#c" x="382" y="252"/><use href="#c" x="372" y="309"/><use href="#c" x="450" y="245"/><use href="#c" x="388" y="152"/><use href="#c" x="390" y="141"/><use href="#c" x="331" y="336"/><use href="#c" x="385" y="140"/><use href="#c" x="438" y="252"/><use href="#c" x="274" y="328"/><use href="#c" x="340" y="130"/><use href="#c" x="386" y="160"/><use href="#c" x="435" y="340"/><use href="#c" x="380" y="98"/><use href="#c" x="404" y="218"/><use href="#c" x="369" y="191"/><use href="#c" x="406" y="165"/><use href="#c" x="327" y="333"/><use href="#c" x="335" y="191"/><use href="#c" x="308" y="230"/><use href="#c" x="365" y="101"/><use href="#c" x="298" y="250"/><use href="#c" x="447" y="267"/><use href="#c" x="329" y="147"/><use href="#c" x="332" y="322"/><use href="#c" x="390" y="330"/><use href="#c" x="354" y="171"/><use href="#c" x="343" y="119"/><use href="#c" x="431" y="211"/><use href="#c" x="366" y="145"/><use href="#c" x="371" y="87"/><use href="#c" x="419" y="172"/><use href="#c" x="429" y="257"/><use href="#c" x="530" y="361"/><use href="#c" x="370" y="195"/><use href="#c" x="319" y="311"/><use href="#c" x="419" y="228"/><use href="#c" x="396" y="146"/><use href="#c" x="408" y="225"/><use href="#c" x="304" y="250"/><use href="#c" x="444" y="235"/><use href="#c" x="377" y="148"/><use href="#c" x="383" y="323"/><use href="#c" x="395" y="115"/><use href="#c" x="337" y="132"/><use href="#c" x="403" y="149"/><use href="#c" x="342" y="166"/><use href="#c" x="273" y="345"/><use href="#c" x="300" y="233"/><use href="#c" x="379" y="344"/><use href="#c" x="381" y="345"/><use href="#c" x="380" y="346"/><use href="#c" x="378" y="342"/><use href="#c" x="380" y="344"/><use href="#c" x="383" y="345"/><use href="#c" x="260" y="316"/><use href="#c" x="378" y="175"/><use href="#c" x="303" y="232"/><use href="#c" x="296" y="244"/><use href="#c" x="409" y="226"/><use href="#c" x="371" y="168"/><use href="#c" x="432" y="276"/><use href="#c" x="384" y="267"/><use href="#c" x="308" y="294"/><use href="#c" x="500" y="343"/><use href="#c" x="366" y="190"/><use href="#c" x="417" y="228"/><use href="#c" x="421" y="237"/><use href="#c" x="347" y="196"/><use href="#c" x="450" y="288"/><use href="#c" x="294" y="345"/><use href="#c" x="397" y="322"/><use href="#c" x="377" y="127"/><use href="#c" x="432" y="303"/><use href="#c" x="401" y="129"/><use href="#c" x="440" y="259"/><use href="#c" x="443" y="330"/><use href="#c" x="397" y="243"/><use href="#c" x="443" y="235"/><use href="#c" x="346" y="136"/><use href="#c" x="337" y="158"/><use href="#c" x="404" y="132"/><use href="#c" x="348" y="127"/><use href="#c" x="329" y="237"/><use href="#c" x="260" y="352"/><use href="#c" x="516" y="360"/><use href="#c" x="379" y="198"/><use href="#c" x="415" y="248"/><use href="#c" x="353" y="102"/><use href="#c" x="237" y="346"/><use href="#c" x="387" y="340"/><use href="#c" x="339" y="228"/><use href="#c" x="329" y="148"/><use href="#c" x="435" y="215"/><use href="#c" x="396" y="122"/><use href="#c" x="292" y="250"/><use href="#c" x="384" y="338"/><use href="#c" x="526" y="356"/><use href="#c" x="364" y="130"/><use href="#c" x="383" y="94"/><use href="#c" x="353" y="168"/><use href="#c" x="383" y="115"/><use href="#c" x="381" y="124"/><use href="#c" x="471" y="302"/><use href="#c" x="324" y="211"/><use href="#c" x="323" y="184"/><use href="#c" x="466" y="354"/><use href="#c" x="385" y="215"/><use href="#c" x="484" y="332"/><use href="#c" x="419" y="161"/><use href="#c" x="397" y="144"/><use href="#c" x="369" y="258"/><use href="#c" x="403" y="326"/><use href="#c" x="536" y="360"/><use href="#c" x="408" y="303"/><use href="#c" x="409" y="301"/><use href="#c" x="408" y="299"/><use href="#c" x="412" y="302"/><use href="#c" x="410" y="307"/><use href="#c" x="406" y="299"/><use href="#c" x="422" y="278"/><use href="#c" x="296" y="358"/><use href="#c" x="370" y="264"/><use href="#c" x="369" y="264"/><use href="#c" x="368" y="265"/><use href="#c" x="371" y="271"/><use href="#c" x="422" y="183"/><use href="#c" x="327" y="240"/><use href="#c" x="408" y="171"/><use href="#c" x="420" y="197"/><use href="#c" x="411" y="141"/><use href="#c" x="376" y="90"/><use href="#c" x="357" y="347"/><use href="#c" x="405" y="126"/><use href="#c" x="383" y="155"/><use href="#c" x="336" y="135"/><use href="#c" x="304" y="287"/><use href="#c" x="409" y="138"/><use href="#c" x="420" y="175"/><use href="#c" x="389" y="191"/><use href="#c" x="366" y="93"/><use href="#c" x="401" y="282"/><use href="#c" x="509" y="346"/><use href="#c" x="336" y="133"/><use href="#c" x="390" y="194"/><use href="#c" x="438" y="215"/><use href="#c" x="314" y="220"/><use href="#c" x="402" y="120"/><use href="#c" x="363" y="201"/><use href="#c" x="420" y="174"/><use href="#c" x="353" y="224"/><use href="#c" x="353" y="210"/><use href="#c" x="352" y="224"/><use href="#c" x="354" y="213"/><use href="#c" x="357" y="225"/><use href="#c" x="512" y="355"/><use href="#c" x="429" y="271"/><use href="#c" x="461" y="275"/><use href="#c" x="296" y="238"/><use href="#c" x="291" y="257"/><use href="#c" x="394" y="201"/><use href="#c" x="405" y="263"/><use href="#c" x="402" y="181"/><use href="#c" x="399" y="216"/><use href="#c" x="370" y="168"/><use href="#c" x="284" y="277"/><use href="#c" x="436" y="245"/><use href="#c" x="275" y="291"/><use href="#c" x="492" y="339"/><use href="#c" x="395" y="111"/><use href="#c" x="441" y="227"/><use href="#c" x="390" y="119"/><use href="#c" x="323" y="324"/><use href="#c" x="375" y="304"/><use href="#c" x="428" y="191"/><use href="#c" x="310" y="344"/><use href="#c" x="310" y="340"/><use href="#c" x="311" y="342"/><use href="#c" x="389" y="127"/><use href="#c" x="336" y="138"/><use href="#c" x="372" y="99"/><use href="#c" x="411" y="233"/><use href="#c" x="311" y="226"/><use href="#c" x="379" y="355"/><use href="#c" x="253" y="327"/><use href="#c" x="390" y="114"/><use href="#c" x="382" y="91"/><use href="#c" x="412" y="250"/><use href="#c" x="432" y="197"/><use href="#c" x="529" y="360"/><use href="#c" x="390" y="122"/><use href="#c" x="348" y="146"/><use href="#c" x="459" y="345"/><use href="#c" x="312" y="317"/><use href="#c" x="311" y="199"/><use href="#c" x="380" y="274"/><use href="#c" x="359" y="121"/><use href="#c" x="452" y="294"/><use href="#c" x="395" y="153"/><use href="#c" x="314" y="247"/><use href="#c" x="410" y="324"/><use href="#c" x="260" y="324"/><use href="#c" x="412" y="142"/><use href="#c" x="397" y="274"/><use href="#c" x="378" y="280"/><use href="#c" x="350" y="152"/><use href="#c" x="351" y="155"/><use href="#c" x="351" y="145"/><use href="#c" x="350" y="159"/><use href="#c" x="351" y="139"/><use href="#c" x="348" y="151"/><use href="#c" x="352" y="152"/><use href="#c" x="337" y="245"/><use href="#c" x="524" y="355"/><use href="#c" x="324" y="163"/><use href="#c" x="412" y="319"/><use href="#c" x="407" y="137"/><use href="#c" x="305" y="220"/><use href="#c" x="438" y="351"/><use href="#c" x="359" y="337"/><use href="#c" x="337" y="147"/><use href="#c" x="369" y="99"/><use href="#c" x="419" y="264"/><use href="#c" x="347" y="247"/><use href="#c" x="305" y="222"/><use href="#c" x="372" y="294"/><use href="#c" x="449" y="266"/><use href="#c" x="402" y="285"/><use href="#c" x="388" y="97"/><use href="#c" x="414" y="148"/><use href="#c" x="256" y="335"/><use href="#c" x="330" y="220"/><use href="#c" x="365" y="158"/><use href="#c" x="369" y="307"/><use href="#c" x="393" y="116"/><use href="#c" x="476" y="322"/><use href="#c" x="285" y="290"/><use href="#c" x="292" y="256"/><use href="#c" x="349" y="106"/><use href="#c" x="475" y="301"/><use href="#c" x="377" y="268"/><use href="#c" x="315" y="328"/><use href="#c" x="447" y="330"/><use href="#c" x="357" y="323"/><use href="#c" x="409" y="135"/><use href="#c" x="404" y="123"/><use href="#c" x="292" y="261"/><use href="#c" x="330" y="323"/><use href="#c" x="292" y="336"/><use href="#c" x="289" y="297"/><use href="#c" x="325" y="167"/><use href="#c" x="381" y="110"/><use href="#c" x="411" y="274"/><use href="#c" x="364" y="94"/><use href="#c" x="328" y="177"/><use href="#c" x="386" y="123"/><use href="#c" x="328" y="234"/><use href="#c" x="410" y="297"/><use href="#c" x="324" y="185"/><use href="#c" x="392" y="116"/><use href="#c" x="391" y="121"/><use href="#c" x="324" y="201"/><use href="#c" x="343" y="130"/><use href="#c" x="391" y="116"/><use href="#c" x="409" y="151"/><use href="#c" x="409" y="147"/><use href="#c" x="406" y="131"/><use href="#c" x="436" y="209"/><use href="#c" x="479" y="311"/><use href="#c" x="518" y="353"/><use href="#c" x="375" y="87"/><use href="#c" x="292" y="248"/><use href="#c" x="223" y="354"/><use href="#c" x="514" y="352"/><use href="#c" x="409" y="325"/><use href="#c" x="378" y="93"/><use href="#c" x="280" y="278"/><use href="#c" x="448" y="252"/><use href="#c" x="334" y="308"/><use href="#c" x="423" y="187"/><use href="#c" x="434" y="202"/><use href="#c" x="370" y="110"/><use href="#c" x="288" y="341"/><use href="#c" x="388" y="253"/><use href="#c" x="416" y="244"/><use href="#c" x="448" y="289"/><use href="#c" x="340" y="204"/><use href="#c" x="292" y="305"/><use href="#c" x="386" y="314"/><use href="#c" x="327" y="167"/><use href="#c" x="396" y="307"/><use href="#c" x="349" y="208"/><use href="#c" x="329" y="148"/><use href="#c" x="308" y="209"/><use href="#c" x="320" y="195"/><use href="#c" x="405" y="215"/><use href="#c" x="402" y="205"/><use href="#c" x="303" y="270"/><use href="#c" x="374" y="148"/><use href="#c" x="422" y="209"/><use href="#c" x="306" y="283"/><use href="#c" x="332" y="154"/><use href="#c" x="332" y="181"/><use href="#c" x="414" y="149"/><use href="#c" x="304" y="224"/><use href="#c" x="264" y="309"/><use href="#c" x="287" y="312"/><use href="#c" x="280" y="289"/><use href="#c" x="390" y="275"/><use href="#c" x="457" y="300"/><use href="#c" x="331" y="327"/><use href="#c" x="309" y="343"/><use href="#c" x="356" y="176"/><use href="#c" x="332" y="294"/><use href="#c" x="499" y="341"/><use href="#c" x="412" y="201"/><use href="#c" x="364" y="274"/><use href="#c" x="327" y="274"/><use href="#c" x="386" y="139"/><use href="#c" x="350" y="150"/><use href="#c" x="438" y="275"/><use href="#c" x="424" y="174"/><use href="#c" x="449" y="263"/><use href="#c" x="298" y="253"/><use href="#c" x="503" y="341"/><use href="#c" x="321" y="196"/><use href="#c" x="361" y="131"/><use href="#c" x="372" y="96"/><use href="#c" x="414" y="220"/><use href="#c" x="428" y="229"/><use href="#c" x="399" y="124"/><use href="#c" x="477" y="307"/><use href="#c" x="409" y="156"/><use href="#c" x="440" y="236"/><use href="#c" x="414" y="183"/><use href="#c" x="387" y="171"/><use href="#c" x="335" y="152"/><use href="#c" x="334" y="143"/><use href="#c" x="403" y="123"/><use href="#c" x="444" y="285"/><use href="#c" x="447" y="261"/><use href="#c" x="393" y="117"/><use href="#c" x="395" y="146"/><use href="#c" x="281" y="299"/><use href="#c" x="347" y="171"/><use href="#c" x="430" y="327"/><use href="#c" x="324" y="219"/><use href="#c" x="251" y="334"/><use href="#c" x="306" y="229"/><use href="#c" x="428" y="298"/><use href="#c" x="348" y="174"/><use href="#c" x="420" y="162"/><use href="#c" x="473" y="297"/><use href="#c" x="371" y="143"/><use href="#c" x="244" y="360"/><use href="#c" x="315" y="193"/><use href="#c" x="417" y="157"/><use href="#c" x="428" y="196"/><use href="#c" x="369" y="144"/><use href="#c" x="365" y="198"/><use href="#c" x="456" y="284"/><use href="#c" x="276" y="297"/><use href="#c" x="343" y="162"/><use href="#c" x="393" y="329"/><use href="#c" x="337" y="199"/><use href="#c" x="338" y="200"/><use href="#c" x="338" y="205"/><use href="#c" x="335" y="202"/><use href="#c" x="335" y="202"/><use href="#c" x="240" y="352"/><use href="#c" x="380" y="106"/><use href="#c" x="436" y="285"/><use href="#c" x="515" y="351"/><use href="#c" x="372" y="95"/><use href="#c" x="344" y="272"/><use href="#c" x="347" y="152"/><use href="#c" x="367" y="296"/><use href="#c" x="485" y="338"/><use href="#c" x="347" y="119"/><use href="#c" x="405" y="134"/><use href="#c" x="363" y="93"/><use href="#c" x="368" y="130"/><use href="#c" x="386" y="95"/><use href="#c" x="217" y="357"/><use href="#c" x="343" y="143"/><use href="#c" x="255" y="364"/><use href="#c" x="397" y="113"/><use href="#c" x="319" y="181"/><use href="#c" x="372" y="88"/><use href="#c" x="358" y="138"/><use href="#c" x="316" y="244"/><use href="#c" x="439" y="242"/><use href="#c" x="539" y="364"/><use href="#c" x="348" y="110"/><use href="#c" x="353" y="103"/><use href="#c" x="403" y="131"/><use href="#c" x="323" y="254"/><use href="#c" x="381" y="150"/><use href="#c" x="250" y="331"/><use href="#c" x="234" y="353"/><use href="#c" x="469" y="291"/><use href="#c" x="425" y="352"/><use href="#c" x="405" y="213"/><use href="#c" x="430" y="256"/><use href="#c" x="412" y="269"/><use href="#c" x="343" y="128"/><use href="#c" x="398" y="121"/><use href="#c" x="352" y="101"/><use href="#c" x="360" y="176"/><use href="#c" x="409" y="181"/><use href="#c" x="336" y="132"/><use href="#c" x="365" y="217"/><use href="#c" x="410" y="139"/><use href="#c" x="404" y="154"/><use href="#c" x="392" y="173"/><use href="#c" x="248" y="344"/><use href="#c" x="432" y="214"/><use href="#c" x="364" y="185"/><use href="#c" x="340" y="194"/><use href="#c" x="378" y="150"/><use href="#c" x="378" y="362"/><use href="#c" x="399" y="330"/><use href="#c" x="386" y="101"/><use href="#c" x="286" y="288"/><use href="#c" x="273" y="316"/><use href="#c" x="371" y="93"/><use href="#c" x="374" y="262"/><use href="#c" x="391" y="147"/><use href="#c" x="356" y="162"/><use href="#c" x="283" y="271"/><use href="#c" x="401" y="357"/><use href="#c" x="399" y="118"/><use href="#c" x="338" y="219"/><use href="#c" x="372" y="247"/><use href="#c" x="336" y="140"/><use href="#c" x="532" y="361"/><use href="#c" x="392" y="138"/><use href="#c" x="354" y="135"/><use href="#c" x="354" y="121"/><use href="#c" x="349" y="135"/><use href="#c" x="360" y="100"/><use href="#c" x="374" y="104"/><use href="#c" x="476" y="304"/><use href="#c" x="294" y="268"/><use href="#c" x="301" y="347"/><use href="#c" x="310" y="312"/><use href="#c" x="311" y="312"/><use href="#c" x="309" y="308"/><use href="#c" x="308" y="314"/><use href="#c" x="311" y="312"/><use href="#c" x="384" y="311"/><use href="#c" x="383" y="141"/><use href="#c" x="444" y="265"/><use href="#c" x="262" y="337"/><use href="#c" x="407" y="331"/><use href="#c" x="380" y="99"/><use href="#c" x="341" y="197"/><use href="#c" x="393" y="307"/><use href="#c" x="525" y="359"/><use href="#c" x="489" y="332"/><use href="#c" x="333" y="273"/><use href="#c" x="425" y="245"/><use href="#c" x="335" y="140"/><use href="#c" x="350" y="114"/><use href="#c" x="375" y="92"/><use href="#c" x="399" y="308"/><use href="#c" x="365" y="177"/><use href="#c" x="397" y="109"/><use href="#c" x="386" y="366"/><use href="#c" x="325" y="163"/><use href="#c" x="386" y="126"/><use href="#c" x="333" y="308"/><use href="#c" x="327" y="153"/><use href="#c" x="434" y="206"/><use href="#c" x="327" y="293"/><use href="#c" x="398" y="345"/><use href="#c" x="401" y="200"/><use href="#c" x="456" y="266"/><use href="#c" x="370" y="115"/><use href="#c" x="422" y="168"/><use href="#c" x="322" y="225"/><use href="#c" x="412" y="151"/><use href="#c" x="346" y="111"/><use href="#c" x="424" y="176"/><use href="#c" x="397" y="268"/><use href="#c" x="340" y="336"/><use href="#c" x="331" y="156"/><use href="#c" x="294" y="322"/><use href="#c" x="343" y="167"/><use href="#c" x="387" y="132"/><use href="#c" x="441" y="222"/><use href="#c" x="282" y="339"/><use href="#c" x="451" y="253"/><use href="#c" x="432" y="263"/><use href="#c" x="389" y="236"/><use href="#c" x="494" y="353"/><use href="#c" x="412" y="189"/><use href="#c" x="327" y="328"/><use href="#c" x="361" y="93"/><use href="#c" x="438" y="259"/><use href="#c" x="402" y="191"/><use href="#c" x="430" y="198"/><use href="#c" x="413" y="144"/><use href="#c" x="434" y="214"/><use href="#c" x="320" y="186"/><use href="#c" x="344" y="153"/><use href="#c" x="451" y="276"/><use href="#c" x="407" y="139"/><use href="#c" x="438" y="223"/><use href="#c" x="437" y="239"/><use href="#c" x="363" y="93"/><use href="#c" x="364" y="103"/><use href="#c" x="374" y="192"/><use href="#c" x="418" y="204"/><use href="#c" x="378" y="102"/><use href="#c" x="355" y="105"/><use href="#c" x="272" y="315"/><use href="#c" x="331" y="150"/><use href="#c" x="328" y="275"/><use href="#c" x="364" y="162"/><use href="#c" x="333" y="303"/><use href="#c" x="361" y="98"/><use href="#c" x="319" y="193"/><use href="#c" x="310" y="359"/><use href="#c" x="404" y="197"/><use href="#c" x="330" y="159"/><use href="#c" x="432" y="244"/><use href="#c" x="342" y="118"/><use href="#c" x="318" y="342"/><use href="#c" x="471" y="337"/><use href="#c" x="440" y="340"/><use href="#c" x="420" y="324"/><use href="#c" x="337" y="150"/><use href="#c" x="454" y="258"/><use href="#c" x="356" y="214"/><use href="#c" x="345" y="128"/><use href="#c" x="380" y="92"/><use href="#c" x="254" y="328"/><use href="#c" x="398" y="145"/><use href="#c" x="406" y="193"/><use href="#c" x="250" y="332"/><use href="#c" x="318" y="190"/><use href="#c" x="289" y="310"/><use href="#c" x="293" y="252"/><use href="#c" x="283" y="271"/><use href="#c" x="289" y="338"/><use href="#c" x="424" y="176"/><use href="#c" x="345" y="228"/><use href="#c" x="340" y="314"/><use href="#c" x="454" y="285"/><use href="#c" x="300" y="271"/><use href="#c" x="300" y="229"/><use href="#c" x="424" y="173"/><use href="#c" x="321" y="186"/><use href="#c" x="353" y="100"/><use href="#c" x="338" y="332"/><use href="#c" x="332" y="140"/><use href="#c" x="335" y="133"/><use href="#c" x="334" y="137"/><use href="#c" x="385" y="163"/><use href="#c" x="391" y="260"/><use href="#c" x="347" y="114"/><use href="#c" x="362" y="228"/><use href="#c" x="467" y="292"/><use href="#c" x="319" y="181"/><use href="#c" x="492" y="347"/><use href="#c" x="417" y="209"/><use href="#c" x="366" y="89"/><use href="#c" x="320" y="203"/><use href="#c" x="331" y="218"/><use href="#c" x="394" y="234"/><use href="#c" x="384" y="92"/><use href="#c" x="284" y="271"/><use href="#c" x="415" y="224"/><use href="#c" x="429" y="341"/><use href="#c" x="466" y="294"/><use href="#c" x="401" y="141"/><use href="#c" x="232" y="366"/><use href="#c" x="427" y="344"/><use href="#c" x="445" y="351"/><use href="#c" x="417" y="227"/><use href="#c" x="280" y="277"/><use href="#c" x="371" y="93"/><use href="#c" x="421" y="167"/><use href="#c" x="452" y="261"/><use href="#c" x="398" y="240"/><use href="#c" x="472" y="298"/><use href="#c" x="387" y="112"/><use href="#c" x="390" y="116"/><use href="#c" x="384" y="110"/><use href="#c" x="386" y="117"/><use href="#c" x="387" y="113"/><use href="#c" x="384" y="110"/><use href="#c" x="387" y="108"/><use href="#c" x="388" y="117"/><use href="#c" x="389" y="119"/><use href="#c" x="387" y="112"/><use href="#c" x="388" y="109"/><use href="#c" x="384" y="107"/><use href="#c" x="386" y="110"/><use href="#c" x="386" y="108"/><use href="#c" x="385" y="112"/><use href="#c" x="423" y="178"/><use href="#c" x="334" y="156"/><use href="#c" x="349" y="108"/><use href="#c" x="396" y="145"/><use href="#c" x="306" y="310"/><use href="#c" x="389" y="227"/><use href="#c" x="420" y="194"/><use href="#c" x="441" y="253"/><use href="#c" x="514" y="349"/><use href="#c" x="426" y="316"/><use href="#c" x="451" y="322"/><use href="#c" x="327" y="202"/><use href="#c" x="333" y="192"/><use href="#c" x="326" y="191"/><use href="#c" x="352" y="261"/><use href="#c" x="405" y="150"/><use href="#c" x="340" y="139"/><use href="#c" x="303" y="314"/><use href="#c" x="287" y="291"/><use href="#c" x="442" y="352"/><use href="#c" x="365" y="92"/><use href="#c" x="291" y="320"/><use href="#c" x="474" y="300"/><use href="#c" x="307" y="331"/><use href="#c" x="399" y="147"/><use href="#c" x="399" y="146"/><use href="#c" x="347" y="159"/><use href="#c" x="347" y="152"/><use href="#c" x="347" y="154"/><use href="#c" x="348" y="151"/><use href="#c" x="345" y="159"/><use href="#c" x="350" y="153"/><use href="#c" x="347" y="163"/><use href="#c" x="344" y="166"/><use href="#c" x="343" y="167"/><use href="#c" x="347" y="156"/><use href="#c" x="287" y="268"/><use href="#c" x="285" y="272"/><use href="#c" x="315" y="306"/><use href="#c" x="302" y="276"/><use href="#c" x="348" y="114"/><use href="#c" x="445" y="300"/><use href="#c" x="444" y="299"/><use href="#c" x="446" y="306"/><use href="#c" x="322" y="338"/><use href="#c" x="385" y="101"/><use href="#c" x="386" y="248"/><use href="#c" x="351" y="160"/><use href="#c" x="362" y="106"/><use href="#c" x="288" y="324"/><use href="#c" x="326" y="156"/><use href="#c" x="384" y="94"/><use href="#c" x="470" y="333"/><use href="#c" x="325" y="306"/><use href="#c" x="468" y="360"/><use href="#c" x="412" y="144"/><use href="#c" x="440" y="219"/><use href="#c" x="397" y="135"/><use href="#c" x="428" y="187"/><use href="#c" x="355" y="192"/><use href="#c" x="327" y="179"/><use href="#c" x="362" y="93"/><use href="#c" x="307" y="240"/><use href="#c" x="386" y="95"/><use href="#c" x="280" y="331"/><use href="#c" x="448" y="247"/><use href="#c" x="373" y="185"/><use href="#c" x="363" y="130"/><use href="#c" x="469" y="322"/><use href="#c" x="398" y="324"/><use href="#c" x="403" y="257"/><use href="#c" x="379" y="133"/><use href="#c" x="425" y="244"/><use href="#c" x="345" y="131"/><use href="#c" x="347" y="153"/><use href="#c" x="267" y="303"/><use href="#c" x="407" y="231"/><use href="#c" x="452" y="261"/><use href="#c" x="411" y="140"/><use href="#c" x="498" y="352"/><use href="#c" x="363" y="155"/><use href="#c" x="401" y="132"/><use href="#c" x="427" y="188"/><use href="#c" x="322" y="345"/><use href="#c" x="379" y="309"/><use href="#c" x="481" y="312"/><use href="#c" x="259" y="319"/><use href="#c" x="326" y="196"/><use href="#c" x="459" y="330"/><use href="#c" x="422" y="343"/><use href="#c" x="268" y="324"/><use href="#c" x="338" y="317"/><use href="#c" x="318" y="183"/><use href="#c" x="356" y="98"/><use href="#c" x="399" y="188"/><use href="#c" x="288" y="266"/><use href="#c" x="382" y="122"/><use href="#c" x="405" y="285"/><use href="#c" x="256" y="350"/><use href="#c" x="457" y="263"/><use href="#c" x="407" y="263"/><use href="#c" x="361" y="157"/><use href="#c" x="393" y="151"/><use href="#c" x="401" y="123"/><use href="#c" x="418" y="203"/><use href="#c" x="510" y="351"/><use href="#c" x="437" y="287"/><use href="#c" x="259" y="318"/><use href="#c" x="310" y="201"/><use href="#c" x="426" y="275"/><use href="#c" x="290" y="257"/><use href="#c" x="496" y="333"/><use href="#c" x="374" y="163"/><use href="#c" x="301" y="262"/><use href="#c" x="341" y="171"/><use href="#c" x="384" y="123"/><use href="#c" x="379" y="98"/><use href="#c" x="372" y="99"/><use href="#c" x="380" y="100"/><use href="#c" x="379" y="96"/><use href="#c" x="384" y="292"/><use href="#c" x="284" y="275"/><use href="#c" x="321" y="185"/><use href="#c" x="400" y="262"/><use href="#c" x="255" y="325"/><use href="#c" x="260" y="319"/><use href="#c" x="420" y="183"/><use href="#c" x="376" y="219"/><use href="#c" x="354" y="288"/><use href="#c" x="331" y="146"/><use href="#c" x="393" y="244"/><use href="#c" x="96" y="367"/><use href="#c" x="147" y="367"/><use href="#c" x="151" y="367"/><use href="#c" x="172" y="367"/><use href="#c" x="177" y="367"/><use href="#c" x="179" y="366"/><use href="#c" x="183" y="364"/><use href="#c" x="608" y="367"/><use href="#c" x="582" y="367"/><use href="#c" x="581" y="367"/><use href="#c" x="570" y="367"/><use href="#c" x="561" y="366"/><use href="#c" x="551" y="365"/></g>
<rect class="ln" x="78.5" y="78.5" width="553" height="304"/>
<path class="ln" d="M102.5 382.5V392M208.5 382.5V392M315.5 382.5V392M421.5 382.5V392M527.5 382.5V392"/>
<path class="ln" d="M78.5 370.5H69M78.5 317.5H69M78.5 264.5H69M78.5 211.5H69M78.5 158.5H69M78.5 104.5H69"/>
</g>
<g text-anchor="middle">
<text x="101.5" y="417">880</text>
<text x="208" y="417">890</text>
<text x="314.5" y="417">900</text>
<text x="421" y="417">910</text>
<text x="527" y="417">920</text>
<text x="355" y="455.5">sigma_scale</text>
<text transform="translate(55.5,370.5) rotate(-90)">0e+00</text>
<text transform="translate(55.5,264.5) rotate(-90)">4e-119</text>
<text transform="translate(55.5,158.5) rotate(-90)">8e-119</text>
<text transform="translate(17.5,230.5) rotate(-90)">unnormalized posterior density</text>
</g>
</svg>
</body></html>
